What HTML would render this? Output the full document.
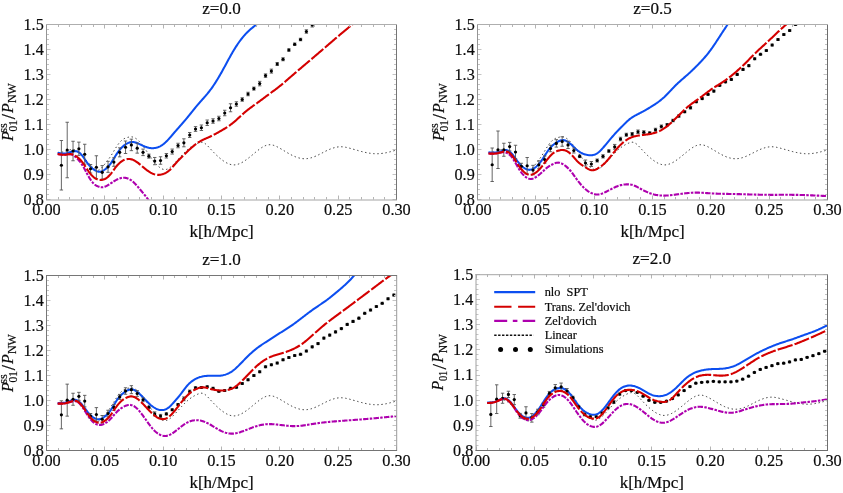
<!DOCTYPE html>
<html><head><meta charset="utf-8"><title>P01 ratio plots</title>
<style>html,body{margin:0;padding:0;background:#fff;}body{width:843px;height:493px;overflow:hidden;font-family:"Liberation Serif",serif;}svg{display:block;will-change:transform;}</style>
</head><body>
<svg width="843" height="493" viewBox="0 0 843 493">
<defs>
<clipPath id="c1"><rect x="46.5" y="24.5" width="350" height="175"/></clipPath>
<clipPath id="c2"><rect x="477.5" y="24.5" width="350" height="175"/></clipPath>
<clipPath id="c3"><rect x="46.5" y="275.5" width="350" height="175"/></clipPath>
<clipPath id="c4"><rect x="476" y="274.5" width="351.5" height="176"/></clipPath>
</defs>
<g id="panel1">
<g clip-path="url(#c1)" fill="none">
<path transform="translate(0 0.5)" d="M57.7 152.35L58.55 152.24L59.4 152.12L60.25 152L61.1 151.86L61.95 151.71L62.79 151.53L63.64 151.33L64.49 151.1L65.34 150.83L66.19 150.54L67.04 150.23L67.89 149.93L68.74 149.64L69.59 149.39L70.44 149.18L71.29 149.03L72.14 148.95L72.98 148.97L73.83 149.08L74.68 149.3L75.53 149.63L76.38 150.05L77.23 150.55L78.08 151.14L78.93 151.81L79.78 152.55L80.63 153.36L81.48 154.22L82.32 155.14L83.17 156.11L84.02 157.1L84.87 158.12L85.72 159.15L86.57 160.18L87.42 161.19L88.27 162.18L89.12 163.14L89.97 164.07L90.82 164.97L91.66 165.83L92.51 166.65L93.36 167.43L94.21 168.15L95.06 168.79L95.91 169.3L96.76 169.64L97.61 169.79L98.46 169.69L99.31 169.35L100.16 168.79L101.01 168.06L101.85 167.18L102.7 166.2L103.55 165.14L104.4 164.05L105.25 162.97L106.1 161.89L106.95 160.82L107.8 159.73L108.65 158.61L109.5 157.45L110.35 156.23L111.19 154.94L112.04 153.58L112.89 152.18L113.74 150.76L114.59 149.34L115.44 147.94L116.29 146.58L117.14 145.28L117.99 144.06L118.84 142.92L119.69 141.88L120.54 140.93L121.38 140.1L122.23 139.37L123.08 138.77L123.93 138.27L124.78 137.85L125.63 137.5L126.48 137.22L127.33 136.97L128.18 136.75L129.03 136.55L129.88 136.39L130.72 136.31L131.57 136.34L132.42 136.47L133.27 136.7L134.12 137.02L134.97 137.44L135.82 137.95L136.67 138.54L137.52 139.23L138.37 139.99L139.22 140.84L140.06 141.76L140.91 142.75L141.76 143.81L142.61 144.93L143.46 146.09L144.31 147.29L145.16 148.52L146.01 149.77L146.86 151.04L147.71 152.3L148.56 153.57L149.41 154.83L150.25 156.06L151.1 157.28L151.95 158.46L152.8 159.61L153.65 160.71L154.5 161.77L155.35 162.77L156.2 163.71L157.05 164.59L157.9 165.41L158.75 166.17L159.59 166.85L160.44 167.47L161.29 168L162.14 168.44L162.99 168.79L163.84 169.01L164.69 169.12L165.54 169.09L166.39 168.93L167.24 168.65L168.09 168.26L168.94 167.77L169.78 167.19L170.63 166.54L171.48 165.81L172.33 165.04L173.18 164.21L174.03 163.34L174.88 162.45L175.73 161.54L176.58 160.61L177.43 159.67L178.28 158.73L179.12 157.78L179.97 156.84L180.82 155.89L181.67 154.96L182.52 154.05L183.37 153.15L184.22 152.27L185.07 151.42L185.92 150.59L186.77 149.81L187.62 149.05L188.46 148.34L189.31 147.66L190.16 147.01L191.01 146.4L191.86 145.82L192.71 145.28L193.56 144.76L194.41 144.28L195.26 143.83L196.11 143.4L196.96 143.01L197.81 142.65L198.65 142.31L199.5 142.02L200.35 141.81L201.2 141.7L202.05 141.72L202.9 141.91L203.75 142.25L204.6 142.74L205.45 143.34L206.3 144.05L207.15 144.84L207.99 145.7L208.84 146.61L209.69 147.55L210.54 148.49L211.39 149.43L212.24 150.35L213.09 151.25L213.94 152.14L214.79 153L215.64 153.84L216.49 154.66L217.34 155.45L218.18 156.23L219.03 156.97L219.88 157.7L220.73 158.39L221.58 159.06L222.43 159.7L223.28 160.32L224.13 160.89L224.98 161.44L225.83 161.94L226.68 162.41L227.52 162.83L228.37 163.21L229.22 163.54L230.07 163.82L230.92 164.05L231.77 164.22L232.62 164.33L233.47 164.39L234.32 164.38L235.17 164.32L236.02 164.2L236.86 164.02L237.71 163.8L238.56 163.53L239.41 163.21L240.26 162.85L241.11 162.44L241.96 162L242.81 161.52L243.66 161.01L244.51 160.47L245.36 159.89L246.21 159.3L247.05 158.68L247.9 158.03L248.75 157.37L249.6 156.7L250.45 156.01L251.3 155.31L252.15 154.61L253 153.9L253.85 153.19L254.7 152.49L255.55 151.78L256.39 151.09L257.24 150.4L258.09 149.73L258.94 149.07L259.79 148.44L260.64 147.83L261.49 147.26L262.34 146.72L263.19 146.22L264.04 145.77L264.89 145.37L265.74 145.02L266.58 144.73L267.43 144.5L268.28 144.33L269.13 144.24L269.98 144.22L270.83 144.27L271.68 144.38L272.53 144.55L273.38 144.78L274.23 145.06L275.08 145.38L275.92 145.73L276.77 146.13L277.62 146.55L278.47 147L279.32 147.46L280.17 147.94L281.02 148.43L281.87 148.93L282.72 149.44L283.57 149.95L284.42 150.46L285.26 150.97L286.11 151.48L286.96 151.98L287.81 152.48L288.66 152.96L289.51 153.44L290.36 153.9L291.21 154.35L292.06 154.78L292.91 155.19L293.76 155.58L294.61 155.95L295.45 156.29L296.3 156.62L297.15 156.91L298 157.18L298.85 157.42L299.7 157.64L300.55 157.82L301.4 157.97L302.25 158.09L303.1 158.18L303.95 158.23L304.79 158.25L305.64 158.23L306.49 158.17L307.34 158.08L308.19 157.96L309.04 157.81L309.89 157.62L310.74 157.4L311.59 157.16L312.44 156.89L313.29 156.6L314.14 156.28L314.98 155.94L315.83 155.58L316.68 155.19L317.53 154.8L318.38 154.39L319.23 153.96L320.08 153.53L320.93 153.1L321.78 152.65L322.63 152.21L323.48 151.77L324.32 151.33L325.17 150.9L326.02 150.48L326.87 150.07L327.72 149.67L328.57 149.29L329.42 148.93L330.27 148.58L331.12 148.25L331.97 147.94L332.82 147.65L333.66 147.38L334.51 147.14L335.36 146.93L336.21 146.74L337.06 146.58L337.91 146.45L338.76 146.35L339.61 146.28L340.46 146.25L341.31 146.25L342.16 146.29L343.01 146.36L343.85 146.46L344.7 146.59L345.55 146.74L346.4 146.91L347.25 147.1L348.1 147.3L348.95 147.52L349.8 147.74L350.65 147.97L351.5 148.2L352.35 148.44L353.19 148.68L354.04 148.92L354.89 149.17L355.74 149.41L356.59 149.65L357.44 149.89L358.29 150.13L359.14 150.37L359.99 150.6L360.84 150.83L361.69 151.05L362.54 151.26L363.38 151.47L364.23 151.67L365.08 151.86L365.93 152.04L366.78 152.21L367.63 152.37L368.48 152.52L369.33 152.66L370.18 152.78L371.03 152.9L371.88 152.99L372.72 153.08L373.57 153.14L374.42 153.2L375.27 153.23L376.12 153.25L376.97 153.25L377.82 153.23L378.67 153.2L379.52 153.14L380.37 153.08L381.22 152.99L382.06 152.89L382.91 152.78L383.76 152.65L384.61 152.51L385.46 152.36L386.31 152.19L387.16 152.01L388.01 151.81L388.86 151.61L389.71 151.4L390.56 151.18L391.41 150.95L392.25 150.72L393.1 150.48L393.95 150.24L394.8 150L395.65 149.75L396.5 149.5" stroke="#2a2a2a" stroke-width="0.95" stroke-dasharray="1.4 2.7"/>
<path d="M57.7 152.75L58.23 152.86L58.75 152.97L59.28 153.07L59.81 153.17L60.34 153.26L60.86 153.34L61.39 153.42L61.92 153.47L62.45 153.52L62.97 153.55L63.5 153.56L64.03 153.55L64.56 153.52L65.08 153.47L65.61 153.39L66.14 153.3L66.67 153.19L67.19 153.06L67.72 152.91L68.25 152.76L68.78 152.59L69.3 152.42L69.83 152.25L70.36 152.07L70.89 151.9L71.41 151.74L71.94 151.58L72.47 151.44L73 151.32L73.52 151.22L74.05 151.15L74.58 151.11L75.11 151.11L75.63 151.15L76.16 151.24L76.69 151.36L77.22 151.54L77.74 151.75L78.27 152.02L78.8 152.34L79.33 152.7L79.85 153.12L80.38 153.58L80.91 154.1L81.44 154.68L81.96 155.31L82.49 155.98L83.02 156.7L83.55 157.45L84.07 158.22L84.6 159.01L85.13 159.81L85.66 160.6L86.18 161.39L86.71 162.16L87.24 162.9L87.77 163.61L88.29 164.28L88.82 164.91L89.35 165.51L89.88 166.08L90.4 166.61L90.93 167.12L91.46 167.6L91.99 168.05L92.51 168.49L93.04 168.9L93.57 169.3L94.1 169.68L94.62 170.04L95.15 170.37L95.68 170.68L96.21 170.95L96.73 171.19L97.26 171.39L97.79 171.55L98.32 171.67L98.84 171.74L99.37 171.76L99.9 171.73L100.43 171.65L100.95 171.53L101.48 171.36L102.01 171.16L102.54 170.92L103.06 170.64L103.59 170.33L104.12 170L104.65 169.63L105.17 169.25L105.7 168.84L106.23 168.4L106.76 167.94L107.28 167.45L107.81 166.92L108.34 166.37L108.87 165.78L109.39 165.16L109.92 164.5L110.45 163.8L110.98 163.06L111.5 162.29L112.03 161.48L112.56 160.65L113.09 159.8L113.61 158.94L114.14 158.07L114.67 157.2L115.2 156.33L115.72 155.48L116.25 154.64L116.78 153.82L117.31 153.03L117.83 152.27L118.36 151.53L118.89 150.83L119.42 150.15L119.94 149.49L120.47 148.87L121 148.28L121.53 147.71L122.05 147.18L122.58 146.68L123.11 146.21L123.64 145.76L124.16 145.35L124.69 144.96L125.22 144.59L125.75 144.26L126.27 143.94L126.8 143.65L127.33 143.38L127.86 143.14L128.38 142.91L128.91 142.7L129.44 142.52L129.97 142.36L130.49 142.23L131.02 142.12L131.55 142.05L132.08 142.01L132.6 142L133.13 142.03L133.66 142.09L134.19 142.18L134.71 142.29L135.24 142.43L135.77 142.6L136.3 142.78L136.82 142.98L137.35 143.2L137.88 143.42L138.41 143.66L138.93 143.9L139.46 144.15L139.99 144.4L140.52 144.65L141.04 144.89L141.57 145.14L142.1 145.38L142.63 145.62L143.15 145.85L143.68 146.08L144.21 146.3L144.74 146.51L145.26 146.71L145.79 146.9L146.32 147.08L146.85 147.25L147.37 147.41L147.9 147.55L148.43 147.68L148.95 147.8L149.48 147.9L150.01 147.98L150.54 148.05L151.06 148.11L151.59 148.15L152.12 148.17L152.65 148.18L153.17 148.16L153.7 148.14L154.23 148.09L154.76 148.02L155.28 147.94L155.81 147.84L156.34 147.72L156.87 147.58L157.39 147.42L157.92 147.24L158.45 147.04L158.98 146.82L159.5 146.58L160.03 146.32L160.56 146.04L161.09 145.74L161.61 145.41L162.14 145.06L162.67 144.69L163.2 144.3L163.72 143.89L164.25 143.45L164.78 142.99L165.31 142.52L165.83 142.02L166.36 141.51L166.89 140.99L167.42 140.45L167.94 139.89L168.47 139.33L169 138.75L169.53 138.16L170.05 137.57L170.58 136.97L171.11 136.36L171.64 135.75L172.16 135.13L172.69 134.51L173.22 133.89L173.75 133.27L174.27 132.65L174.8 132.04L175.33 131.42L175.86 130.81L176.38 130.21L176.91 129.6L177.44 129L177.97 128.4L178.49 127.8L179.02 127.2L179.55 126.61L180.08 126.01L180.6 125.41L181.13 124.81L181.66 124.21L182.19 123.61L182.71 123.01L183.24 122.4L183.77 121.79L184.3 121.18L184.82 120.56L185.35 119.94L185.88 119.32L186.41 118.69L186.93 118.05L187.46 117.41L187.99 116.77L188.52 116.12L189.04 115.47L189.57 114.81L190.1 114.16L190.63 113.5L191.15 112.84L191.68 112.18L192.21 111.52L192.74 110.86L193.26 110.21L193.79 109.55L194.32 108.9L194.85 108.24L195.37 107.6L195.9 106.95L196.43 106.32L196.96 105.68L197.48 105.05L198.01 104.43L198.54 103.82L199.07 103.21L199.59 102.6L200.12 102.01L200.65 101.41L201.18 100.82L201.7 100.23L202.23 99.63L202.76 99.04L203.29 98.45L203.81 97.86L204.34 97.26L204.87 96.66L205.4 96.05L205.92 95.44L206.45 94.82L206.98 94.19L207.51 93.56L208.03 92.91L208.56 92.26L209.09 91.59L209.62 90.91L210.14 90.22L210.67 89.51L211.2 88.79L211.73 88.06L212.25 87.31L212.78 86.55L213.31 85.78L213.84 85L214.36 84.2L214.89 83.39L215.42 82.57L215.95 81.74L216.47 80.9L217 80.05L217.53 79.19L218.06 78.32L218.58 77.43L219.11 76.54L219.64 75.64L220.17 74.72L220.69 73.8L221.22 72.87L221.75 71.93L222.28 70.98L222.8 70.03L223.33 69.07L223.86 68.1L224.39 67.13L224.91 66.16L225.44 65.18L225.97 64.21L226.5 63.23L227.02 62.25L227.55 61.28L228.08 60.3L228.61 59.33L229.13 58.37L229.66 57.41L230.19 56.46L230.72 55.51L231.24 54.58L231.77 53.65L232.3 52.73L232.83 51.83L233.35 50.94L233.88 50.06L234.41 49.19L234.94 48.34L235.46 47.5L235.99 46.67L236.52 45.86L237.05 45.06L237.57 44.27L238.1 43.5L238.63 42.74L239.15 42L239.68 41.27L240.21 40.55L240.74 39.85L241.26 39.16L241.79 38.49L242.32 37.82L242.85 37.18L243.37 36.55L243.9 35.93L244.43 35.33L244.96 34.74L245.48 34.16L246.01 33.6L246.54 33.06L247.07 32.52L247.59 32L248.12 31.49L248.65 30.99L249.18 30.5L249.7 30.03L250.23 29.56L250.76 29.1L251.29 28.64L251.81 28.2L252.34 27.76L252.87 27.33L253.4 26.91L253.92 26.49L254.45 26.07L254.98 25.66L255.51 25.26L256.03 24.85L256.56 24.45L257.09 24.05L257.62 23.66L258.14 23.26L258.67 22.87L259.2 22.48L259.73 22.09L260.25 21.7L260.78 21.32L261.31 20.93L261.84 20.55L262.36 20.16L262.89 19.78L263.42 19.4L263.95 19.02L264.47 18.64L265 18.26L265.53 17.88L266.06 17.51L266.58 17.13L267.11 16.75L267.64 16.38L268.17 16" stroke="#0c4ef0" stroke-width="2.05"/>
<path d="M61.38 140.5V190M59.67 140.5H63.08M59.67 190H63.08M67.21 122.25V177.75M65.51 122.25H68.91M65.51 177.75H68.91M73.04 141.25V160.75M71.34 141.25H74.74M71.34 160.75H74.74M78.88 142.13V155.38M77.17 142.13H80.58M77.17 155.38H80.58M84.71 144.25V164.25M83.01 144.25H86.41M83.01 164.25H86.41M90.54 164.5V173M88.84 164.5H92.24M88.84 173H92.24M96.38 155.75V178.75M94.67 155.75H98.08M94.67 178.75H98.08M102.21 165.6V179.1M100.51 165.6H103.91M100.51 179.1H103.91M108.04 161.33V172.33M106.34 161.33H109.74M106.34 172.33H109.74M113.88 157.8V166.3M112.17 157.8H115.58M112.17 166.3H115.58M119.71 147.85V156.85M118.01 147.85H121.41M118.01 156.85H121.41M125.54 141V153.5M123.84 141H127.24M123.84 153.5H127.24M131.38 139.15V150.65M129.68 139.15H133.07M129.68 150.65H133.07M137.21 143.15V153.15M135.51 143.15H138.91M135.51 153.15H138.91M143.04 149.1V155.6M141.34 149.1H144.74M141.34 155.6H144.74M148.88 154.15V158.15M147.18 154.15H150.57M147.18 158.15H150.57M154.71 157.48V164.72M153.01 157.48H156.41M153.01 164.72H156.41M160.54 156.75V164.25M158.84 156.75H162.24M158.84 164.25H162.24M166.38 153.5V158M164.68 153.5H168.07M164.68 158H168.07M172.21 149.07V154.07M170.51 149.07H173.91M170.51 154.07H173.91M178.04 143.25V147.75M176.34 143.25H179.74M176.34 147.75H179.74M183.88 138.8V146.8M182.18 138.8H185.57M182.18 146.8H185.57M189.71 132.5V137.5M188.01 132.5H191.41M188.01 137.5H191.41M195.54 126.62V131.38M193.84 126.62H197.24M193.84 131.38H197.24M201.38 125V130.5M199.68 125H203.08M199.68 130.5H203.08M207.21 120V125.5M205.51 120H208.91M205.51 125.5H208.91M213.04 118.75V123.25M211.34 118.75H214.74M211.34 123.25H214.74M218.88 116.25V120.75M217.18 116.25H220.58M217.18 120.75H220.58M224.71 110.25V115.75M223.01 110.25H226.41M223.01 115.75H226.41M230.54 103.75V111.75M228.84 103.75H232.24M228.84 111.75H232.24M236.38 101.75V106.25M234.68 101.75H238.08M234.68 106.25H238.08M242.21 97.75V101.25M240.51 97.75H243.91M240.51 101.25H243.91M248.04 92.25V95.75M246.34 92.25H249.74M246.34 95.75H249.74M253.88 87.1V90.1M252.18 87.1H255.58M252.18 90.1H255.58M259.71 81.35V85.85M258.01 81.35H261.41M258.01 85.85H261.41M265.54 73.88V77.37M263.84 73.88H267.24M263.84 77.37H267.24M271.38 69.12V73.12M269.68 69.12H273.07M269.68 73.12H273.07M277.21 62.5V65.5M275.51 62.5H278.91M275.51 65.5H278.91M283.04 57.75V60.75M281.34 57.75H284.74M281.34 60.75H284.74M288.88 48.75V51.25M287.18 48.75H290.57M287.18 51.25H290.57M294.71 43V45.5M293.01 43H296.41M293.01 45.5H296.41M300.54 38.25V40.75M298.84 38.25H302.24M298.84 40.75H302.24M306.38 29.75V33.25M304.68 29.75H308.07M304.68 33.25H308.07M312.21 23V27M310.51 23H313.91M310.51 27H313.91" stroke="#555" stroke-width="0.9"/>
<g fill="#000"><circle cx="61.38" cy="165.25" r="1.6"/><circle cx="67.21" cy="150" r="1.6"/><circle cx="73.04" cy="151" r="1.6"/><circle cx="78.88" cy="148.75" r="1.6"/><circle cx="84.71" cy="154.25" r="1.6"/><circle cx="90.54" cy="168.75" r="1.6"/><circle cx="96.38" cy="167.25" r="1.6"/><circle cx="102.21" cy="172.35" r="1.6"/><circle cx="108.04" cy="166.83" r="1.6"/><circle cx="113.88" cy="162.05" r="1.6"/><circle cx="119.71" cy="152.35" r="1.6"/><circle cx="125.54" cy="147.25" r="1.6"/><circle cx="131.38" cy="144.9" r="1.6"/><circle cx="137.21" cy="148.15" r="1.6"/><circle cx="143.04" cy="152.35" r="1.6"/><circle cx="148.88" cy="156.15" r="1.6"/><circle cx="154.71" cy="161.1" r="1.6"/><circle cx="160.54" cy="160.5" r="1.6"/><circle cx="166.38" cy="155.75" r="1.6"/><circle cx="172.21" cy="151.57" r="1.6"/><circle cx="178.04" cy="145.5" r="1.6"/><circle cx="183.88" cy="142.8" r="1.6"/><circle cx="189.71" cy="135" r="1.6"/><circle cx="195.54" cy="129" r="1.6"/><circle cx="201.38" cy="127.75" r="1.6"/><circle cx="207.21" cy="122.75" r="1.6"/><circle cx="213.04" cy="121" r="1.6"/><circle cx="218.88" cy="118.5" r="1.6"/><circle cx="224.71" cy="113" r="1.6"/><circle cx="230.54" cy="107.75" r="1.6"/><circle cx="236.38" cy="104" r="1.6"/><circle cx="242.21" cy="99.5" r="1.6"/><circle cx="248.04" cy="94" r="1.6"/><circle cx="253.88" cy="88.6" r="1.6"/><circle cx="259.71" cy="83.6" r="1.6"/><circle cx="265.54" cy="75.62" r="1.6"/><circle cx="271.38" cy="71.12" r="1.6"/><circle cx="277.21" cy="64" r="1.6"/><circle cx="283.04" cy="59.25" r="1.6"/><circle cx="288.88" cy="50" r="1.6"/><circle cx="294.71" cy="44.25" r="1.6"/><circle cx="300.54" cy="39.5" r="1.6"/><circle cx="306.38" cy="31.5" r="1.6"/><circle cx="312.21" cy="25" r="1.6"/></g>
<path d="M57.7 154L57.94 154.05L58.18 154.1L58.42 154.15L58.66 154.2L58.9 154.24L59.15 154.29L59.39 154.34L59.63 154.38L59.87 154.42L60.11 154.47L60.35 154.51L60.59 154.54L60.83 154.58L61.07 154.62L61.31 154.65L61.55 154.68L61.8 154.7L62.04 154.73L62.28 154.75L62.52 154.77L62.76 154.78L63 154.79L63.24 154.8L63.48 154.8L63.72 154.8L63.96 154.8L64.21 154.79L64.45 154.78L64.69 154.76L64.93 154.74L65.17 154.71L65.41 154.68L65.65 154.65L65.89 154.61L66.13 154.57L66.37 154.53L66.61 154.49L66.86 154.45L67.1 154.4L67.34 154.36L67.58 154.32L67.82 154.28L68.06 154.25L68.3 154.22L68.54 154.19L68.78 154.17L69.02 154.15L69.26 154.13L69.51 154.13L69.75 154.13L69.99 154.13L70.23 154.15L70.47 154.17L70.71 154.21L70.95 154.25L71.19 154.3L71.43 154.37L71.67 154.44L71.92 154.53L72.16 154.63L72.4 154.73L72.64 154.85L72.88 154.98L73.12 155.12L73.36 155.27L73.6 155.43L73.84 155.59L74.08 155.77L74.32 155.95L74.57 156.14L74.81 156.33L75.05 156.54L75.29 156.75L75.53 156.96L75.77 157.18L76.01 157.41L76.25 157.64L76.49 157.88L76.73 158.12L76.97 158.37L77.22 158.62L77.46 158.87L77.7 159.12L77.94 159.38L78.18 159.64L78.42 159.91L78.66 160.17L78.9 160.44L79.14 160.71L79.38 160.99L79.63 161.28L79.87 161.57L80.11 161.86L80.35 162.17L80.59 162.48L80.83 162.8L81.07 163.13L81.31 163.48L81.55 163.83L81.79 164.19L82.03 164.57L82.28 164.95L82.52 165.34L82.76 165.75L83 166.16L83.24 166.58L83.48 167L83.72 167.43L83.96 167.87L84.2 168.31L84.44 168.76L84.68 169.21L84.93 169.66L85.17 170.11L85.41 170.57L85.65 171.03L85.89 171.49L86.13 171.94L86.37 172.4L86.61 172.86L86.85 173.31L87.09 173.76L87.34 174.21L87.58 174.65L87.82 175.09L88.06 175.53L88.3 175.96L88.54 176.38L88.78 176.8L89.02 177.21L89.26 177.61L89.5 178.01L89.74 178.4L89.99 178.78L90.23 179.16L90.47 179.53L90.71 179.89L90.95 180.24L91.19 180.59L91.43 180.92L91.67 181.25L91.91 181.56L92.15 181.87L92.39 182.17L92.64 182.45L92.88 182.73L93.12 183L93.36 183.25L93.6 183.5L93.84 183.73L94.08 183.95L94.32 184.17L94.56 184.37L94.8 184.57L95.05 184.75L95.29 184.93L95.53 185.1L95.77 185.26L96.01 185.41L96.25 185.55L96.49 185.69L96.73 185.82L96.97 185.94L97.21 186.06L97.45 186.17L97.7 186.28L97.94 186.37L98.18 186.47L98.42 186.56L98.66 186.64L98.9 186.72L99.14 186.79L99.38 186.86L99.62 186.93L99.86 186.99L100.1 187.04L100.35 187.09L100.59 187.14L100.83 187.17L101.07 187.2L101.31 187.23L101.55 187.24L101.79 187.25L102.03 187.25L102.27 187.24L102.51 187.22L102.75 187.2L103 187.17L103.24 187.13L103.48 187.08L103.72 187.03L103.96 186.96L104.2 186.9L104.44 186.82L104.68 186.74L104.92 186.66L105.16 186.56L105.41 186.47L105.65 186.36L105.89 186.26L106.13 186.14L106.37 186.03L106.61 185.9L106.85 185.78L107.09 185.65L107.33 185.52L107.57 185.38L107.81 185.24L108.06 185.1L108.3 184.95L108.54 184.8L108.78 184.65L109.02 184.5L109.26 184.35L109.5 184.19L109.74 184.04L109.98 183.88L110.22 183.72L110.46 183.56L110.71 183.4L110.95 183.24L111.19 183.08L111.43 182.92L111.67 182.76L111.91 182.6L112.15 182.44L112.39 182.28L112.63 182.12L112.87 181.96L113.12 181.81L113.36 181.65L113.6 181.5L113.84 181.35L114.08 181.2L114.32 181.05L114.56 180.9L114.8 180.76L115.04 180.61L115.28 180.47L115.52 180.33L115.77 180.2L116.01 180.06L116.25 179.93L116.49 179.81L116.73 179.68L116.97 179.56L117.21 179.44L117.45 179.33L117.69 179.22L117.93 179.11L118.17 179L118.42 178.9L118.66 178.81L118.9 178.71L119.14 178.62L119.38 178.54L119.62 178.46L119.86 178.38L120.1 178.31L120.34 178.24L120.58 178.17L120.83 178.11L121.07 178.06L121.31 178L121.55 177.96L121.79 177.91L122.03 177.88L122.27 177.84L122.51 177.81L122.75 177.79L122.99 177.77L123.23 177.76L123.48 177.75L123.72 177.75L123.96 177.75L124.2 177.76L124.44 177.77L124.68 177.79L124.92 177.81L125.16 177.84L125.4 177.88L125.64 177.91L125.88 177.96L126.13 178.01L126.37 178.07L126.61 178.13L126.85 178.19L127.09 178.26L127.33 178.34L127.57 178.42L127.81 178.51L128.05 178.6L128.29 178.7L128.54 178.81L128.78 178.92L129.02 179.03L129.26 179.15L129.5 179.27L129.74 179.4L129.98 179.54L130.22 179.68L130.46 179.83L130.7 179.98L130.94 180.14L131.19 180.3L131.43 180.47L131.67 180.64L131.91 180.82L132.15 181.01L132.39 181.2L132.63 181.4L132.87 181.6L133.11 181.81L133.35 182.02L133.59 182.24L133.84 182.46L134.08 182.69L134.32 182.92L134.56 183.16L134.8 183.41L135.04 183.65L135.28 183.91L135.52 184.16L135.76 184.42L136 184.68L136.25 184.95L136.49 185.22L136.73 185.49L136.97 185.77L137.21 186.04L137.45 186.32L137.69 186.6L137.93 186.89L138.17 187.17L138.41 187.46L138.65 187.74L138.9 188.03L139.14 188.32L139.38 188.6L139.62 188.89L139.86 189.18L140.1 189.47L140.34 189.76L140.58 190.04L140.82 190.33L141.06 190.62L141.3 190.91L141.55 191.2L141.79 191.48L142.03 191.77L142.27 192.06L142.51 192.35L142.75 192.64L142.99 192.93L143.23 193.23L143.47 193.52L143.71 193.81L143.95 194.11L144.2 194.41L144.44 194.7L144.68 195L144.92 195.3L145.16 195.61L145.4 195.91L145.64 196.22L145.88 196.52L146.12 196.83L146.36 197.14L146.61 197.46L146.85 197.77L147.09 198.09L147.33 198.41L147.57 198.73L147.81 199.06L148.05 199.39L148.29 199.72L148.53 200.05L148.77 200.38L149.01 200.72L149.26 201.06L149.5 201.4L149.74 201.74L149.98 202.09L150.22 202.43L150.46 202.78L150.7 203.13L150.94 203.48L151.18 203.83L151.42 204.18L151.66 204.54L151.91 204.89L152.15 205.25L152.39 205.6L152.63 205.96L152.87 206.32L153.11 206.68L153.35 207.03L153.59 207.39L153.83 207.75" stroke="#ae00ae" stroke-width="2.1" stroke-dasharray="5.4 1.3 2.5 1.3"/>
<path d="M57.7 154L58.46 154.14L59.22 154.29L59.98 154.42L60.75 154.53L61.51 154.63L62.27 154.71L63.03 154.76L63.79 154.78L64.55 154.77L65.31 154.71L66.08 154.62L66.84 154.51L67.6 154.4L68.36 154.29L69.12 154.21L69.88 154.17L70.64 154.17L71.41 154.24L72.17 154.39L72.93 154.61L73.69 154.9L74.45 155.26L75.21 155.67L75.97 156.15L76.74 156.68L77.5 157.25L78.26 157.87L79.02 158.53L79.78 159.24L80.54 160.01L81.3 160.87L82.06 161.8L82.83 162.82L83.59 163.89L84.35 165.02L85.11 166.17L85.87 167.34L86.63 168.5L87.39 169.65L88.16 170.76L88.92 171.83L89.68 172.85L90.44 173.82L91.2 174.72L91.96 175.57L92.72 176.34L93.49 177.03L94.25 177.65L95.01 178.19L95.77 178.66L96.53 179.05L97.29 179.38L98.05 179.63L98.82 179.82L99.58 179.94L100.34 179.99L101.1 179.99L101.86 179.92L102.62 179.78L103.38 179.58L104.15 179.31L104.91 178.96L105.67 178.54L106.43 178.05L107.19 177.48L107.95 176.84L108.71 176.13L109.48 175.36L110.24 174.51L111 173.59L111.76 172.62L112.52 171.6L113.28 170.56L114.04 169.51L114.81 168.46L115.57 167.44L116.33 166.46L117.09 165.54L117.85 164.68L118.61 163.89L119.37 163.15L120.14 162.48L120.9 161.87L121.66 161.32L122.42 160.83L123.18 160.4L123.94 160.03L124.7 159.72L125.46 159.47L126.23 159.27L126.99 159.12L127.75 159.03L128.51 158.99L129.27 159L130.03 159.06L130.79 159.18L131.56 159.35L132.32 159.57L133.08 159.86L133.84 160.2L134.6 160.59L135.36 161.04L136.12 161.53L136.89 162.06L137.65 162.62L138.41 163.2L139.17 163.81L139.93 164.43L140.69 165.06L141.45 165.7L142.22 166.33L142.98 166.97L143.74 167.6L144.5 168.23L145.26 168.85L146.02 169.45L146.78 170.04L147.55 170.61L148.31 171.15L149.07 171.67L149.83 172.16L150.59 172.62L151.35 173.04L152.11 173.42L152.88 173.76L153.64 174.06L154.4 174.3L155.16 174.5L155.92 174.66L156.68 174.76L157.44 174.83L158.21 174.85L158.97 174.83L159.73 174.77L160.49 174.66L161.25 174.52L162.01 174.34L162.77 174.13L163.54 173.87L164.3 173.58L165.06 173.25L165.82 172.87L166.58 172.44L167.34 171.96L168.1 171.42L168.86 170.81L169.63 170.14L170.39 169.41L171.15 168.61L171.91 167.77L172.67 166.89L173.43 166L174.19 165.1L174.96 164.21L175.72 163.33L176.48 162.48L177.24 161.64L178 160.82L178.76 160.01L179.52 159.21L180.29 158.43L181.05 157.66L181.81 156.89L182.57 156.14L183.33 155.39L184.09 154.66L184.85 153.92L185.62 153.19L186.38 152.47L187.14 151.74L187.9 151.02L188.66 150.31L189.42 149.6L190.18 148.9L190.95 148.21L191.71 147.53L192.47 146.87L193.23 146.22L193.99 145.59L194.75 144.97L195.51 144.38L196.28 143.81L197.04 143.26L197.8 142.74L198.56 142.25L199.32 141.78L200.08 141.34L200.84 140.92L201.61 140.52L202.37 140.13L203.13 139.76L203.89 139.41L204.65 139.06L205.41 138.72L206.17 138.38L206.94 138.05L207.7 137.71L208.46 137.37L209.22 137.03L209.98 136.68L210.74 136.32L211.5 135.95L212.26 135.57L213.03 135.19L213.79 134.79L214.55 134.39L215.31 133.99L216.07 133.57L216.83 133.15L217.59 132.73L218.36 132.3L219.12 131.87L219.88 131.44L220.64 131L221.4 130.56L222.16 130.11L222.92 129.67L223.69 129.22L224.45 128.76L225.21 128.3L225.97 127.83L226.73 127.35L227.49 126.86L228.25 126.36L229.02 125.85L229.78 125.32L230.54 124.77L231.3 124.21L232.06 123.63L232.82 123.03L233.58 122.41L234.35 121.77L235.11 121.11L235.87 120.43L236.63 119.75L237.39 119.05L238.15 118.34L238.91 117.64L239.68 116.93L240.44 116.21L241.2 115.51L241.96 114.81L242.72 114.11L243.48 113.43L244.24 112.76L245.01 112.1L245.77 111.47L246.53 110.85L247.29 110.24L248.05 109.64L248.81 109.06L249.57 108.49L250.34 107.93L251.1 107.37L251.86 106.82L252.62 106.27L253.38 105.73L254.14 105.19L254.9 104.65L255.66 104.1L256.43 103.55L257.19 103L257.95 102.45L258.71 101.89L259.47 101.32L260.23 100.76L260.99 100.19L261.76 99.62L262.52 99.05L263.28 98.48L264.04 97.9L264.8 97.33L265.56 96.76L266.32 96.19L267.09 95.63L267.85 95.06L268.61 94.5L269.37 93.94L270.13 93.38L270.89 92.83L271.65 92.27L272.42 91.72L273.18 91.16L273.94 90.6L274.7 90.04L275.46 89.47L276.22 88.9L276.98 88.32L277.75 87.74L278.51 87.15L279.27 86.55L280.03 85.94L280.79 85.33L281.55 84.7L282.31 84.07L283.08 83.43L283.84 82.79L284.6 82.14L285.36 81.48L286.12 80.82L286.88 80.16L287.64 79.5L288.41 78.83L289.17 78.16L289.93 77.5L290.69 76.83L291.45 76.17L292.21 75.51L292.97 74.85L293.74 74.19L294.5 73.53L295.26 72.88L296.02 72.23L296.78 71.57L297.54 70.92L298.3 70.28L299.06 69.63L299.83 68.98L300.59 68.34L301.35 67.69L302.11 67.04L302.87 66.4L303.63 65.75L304.39 65.11L305.16 64.47L305.92 63.82L306.68 63.18L307.44 62.53L308.2 61.88L308.96 61.24L309.72 60.59L310.49 59.95L311.25 59.3L312.01 58.65L312.77 58.01L313.53 57.36L314.29 56.71L315.05 56.06L315.82 55.41L316.58 54.76L317.34 54.11L318.1 53.46L318.86 52.81L319.62 52.16L320.38 51.51L321.15 50.85L321.91 50.2L322.67 49.55L323.43 48.89L324.19 48.24L324.95 47.58L325.71 46.93L326.48 46.27L327.24 45.62L328 44.96L328.76 44.3L329.52 43.65L330.28 42.99L331.04 42.34L331.81 41.68L332.57 41.03L333.33 40.37L334.09 39.72L334.85 39.07L335.61 38.42L336.37 37.77L337.14 37.12L337.9 36.48L338.66 35.83L339.42 35.19L340.18 34.55L340.94 33.91L341.7 33.27L342.46 32.64L343.23 32L343.99 31.36L344.75 30.73L345.51 30.09L346.27 29.45L347.03 28.82L347.79 28.18L348.56 27.54L349.32 26.9L350.08 26.26L350.84 25.62L351.6 24.98L352.36 24.33L353.12 23.69L353.89 23.04L354.65 22.39L355.41 21.74L356.17 21.09L356.93 20.43L357.69 19.78L358.45 19.12L359.22 18.47L359.98 17.81L360.74 17.16L361.5 16.5" stroke="#d40000" stroke-width="2.1" stroke-dasharray="15.6 2.1"/>
</g>
<path d="M46.5 199.5v-4M46.5 24.5v4M58.5 199.5v-2.5M58.5 24.5v2.5M69.5 199.5v-2.5M69.5 24.5v2.5M81.5 199.5v-2.5M81.5 24.5v2.5M93.5 199.5v-2.5M93.5 24.5v2.5M104.5 199.5v-4M104.5 24.5v4M116.5 199.5v-2.5M116.5 24.5v2.5M128.5 199.5v-2.5M128.5 24.5v2.5M139.5 199.5v-2.5M139.5 24.5v2.5M151.5 199.5v-2.5M151.5 24.5v2.5M163.5 199.5v-4M163.5 24.5v4M174.5 199.5v-2.5M174.5 24.5v2.5M186.5 199.5v-2.5M186.5 24.5v2.5M198.5 199.5v-2.5M198.5 24.5v2.5M209.5 199.5v-2.5M209.5 24.5v2.5M221.5 199.5v-4M221.5 24.5v4M233.5 199.5v-2.5M233.5 24.5v2.5M244.5 199.5v-2.5M244.5 24.5v2.5M256.5 199.5v-2.5M256.5 24.5v2.5M268.5 199.5v-2.5M268.5 24.5v2.5M279.5 199.5v-4M279.5 24.5v4M291.5 199.5v-2.5M291.5 24.5v2.5M303.5 199.5v-2.5M303.5 24.5v2.5M314.5 199.5v-2.5M314.5 24.5v2.5M326.5 199.5v-2.5M326.5 24.5v2.5M338.5 199.5v-4M338.5 24.5v4M349.5 199.5v-2.5M349.5 24.5v2.5M361.5 199.5v-2.5M361.5 24.5v2.5M373.5 199.5v-2.5M373.5 24.5v2.5M384.5 199.5v-2.5M384.5 24.5v2.5M396.5 199.5v-4M396.5 24.5v4" stroke="#b4b4b4" stroke-width="1" fill="none"/>
<path d="M46.5 199.5h4M396.5 199.5h-4M46.5 194.5h2.5M396.5 194.5h-2.5M46.5 189.5h2.5M396.5 189.5h-2.5M46.5 184.5h2.5M396.5 184.5h-2.5M46.5 179.5h2.5M396.5 179.5h-2.5M46.5 174.5h4M396.5 174.5h-4M46.5 169.5h2.5M396.5 169.5h-2.5M46.5 164.5h2.5M396.5 164.5h-2.5M46.5 159.5h2.5M396.5 159.5h-2.5M46.5 154.5h2.5M396.5 154.5h-2.5M46.5 149.5h4M396.5 149.5h-4M46.5 144.5h2.5M396.5 144.5h-2.5M46.5 139.5h2.5M396.5 139.5h-2.5M46.5 134.5h2.5M396.5 134.5h-2.5M46.5 129.5h2.5M396.5 129.5h-2.5M46.5 124.5h4M396.5 124.5h-4M46.5 119.5h2.5M396.5 119.5h-2.5M46.5 114.5h2.5M396.5 114.5h-2.5M46.5 109.5h2.5M396.5 109.5h-2.5M46.5 104.5h2.5M396.5 104.5h-2.5M46.5 99.5h4M396.5 99.5h-4M46.5 94.5h2.5M396.5 94.5h-2.5M46.5 89.5h2.5M396.5 89.5h-2.5M46.5 84.5h2.5M396.5 84.5h-2.5M46.5 79.5h2.5M396.5 79.5h-2.5M46.5 74.5h4M396.5 74.5h-4M46.5 69.5h2.5M396.5 69.5h-2.5M46.5 64.5h2.5M396.5 64.5h-2.5M46.5 59.5h2.5M396.5 59.5h-2.5M46.5 54.5h2.5M396.5 54.5h-2.5M46.5 49.5h4M396.5 49.5h-4M46.5 44.5h2.5M396.5 44.5h-2.5M46.5 39.5h2.5M396.5 39.5h-2.5M46.5 34.5h2.5M396.5 34.5h-2.5M46.5 29.5h2.5M396.5 29.5h-2.5M46.5 24.5h4M396.5 24.5h-4" stroke="#c4c4c4" stroke-width="1" fill="none"/>
<path d="M46.5 24V200" stroke="#949494" stroke-width="1" fill="none"/>
<path d="M396.5 24V200" stroke="#747474" stroke-width="1" fill="none"/>
<path d="M46 24.5H397" stroke="#aeaeae" stroke-width="1" fill="none"/>
<path d="M46 200H397" stroke="#a4a4a4" stroke-width="1" fill="none"/>
<g font-family="'Liberation Serif', serif" font-size="16.4" fill="#0a0a0a" stroke="#0a0a0a" stroke-width="0.2">
<text transform="translate(46.5 215) scale(0.955 1)" text-anchor="middle" font-size="17.1">0.00</text>
<text transform="translate(104.83 215) scale(0.955 1)" text-anchor="middle" font-size="17.1">0.05</text>
<text transform="translate(163.17 215) scale(0.955 1)" text-anchor="middle" font-size="17.1">0.10</text>
<text transform="translate(221.5 215) scale(0.955 1)" text-anchor="middle" font-size="17.1">0.15</text>
<text transform="translate(279.83 215) scale(0.955 1)" text-anchor="middle" font-size="17.1">0.20</text>
<text transform="translate(338.17 215) scale(0.955 1)" text-anchor="middle" font-size="17.1">0.25</text>
<text transform="translate(396.5 215) scale(0.955 1)" text-anchor="middle" font-size="17.1">0.30</text>
<text transform="translate(43.7 204.9) scale(0.945 1)" text-anchor="end" font-size="17.1">0.8</text>
<text transform="translate(43.7 179.9) scale(0.945 1)" text-anchor="end" font-size="17.1">0.9</text>
<text transform="translate(43.7 154.9) scale(0.945 1)" text-anchor="end" font-size="17.1">1.0</text>
<text transform="translate(43.7 129.9) scale(0.945 1)" text-anchor="end" font-size="17.1">1.1</text>
<text transform="translate(43.7 104.9) scale(0.945 1)" text-anchor="end" font-size="17.1">1.2</text>
<text transform="translate(43.7 79.9) scale(0.945 1)" text-anchor="end" font-size="17.1">1.3</text>
<text transform="translate(43.7 54.9) scale(0.945 1)" text-anchor="end" font-size="17.1">1.4</text>
<text transform="translate(43.7 29.9) scale(0.945 1)" text-anchor="end" font-size="17.1">1.5</text>
<text x="221.5" y="13.9" text-anchor="middle" font-size="17.1">z=0.0</text>
<text x="221.5" y="236.7" text-anchor="middle" font-size="17">k[h/Mpc]</text>
</g>
<g transform="translate(13 141) rotate(-90)" font-family="'Liberation Serif', serif" fill="#0a0a0a" stroke="#0a0a0a" stroke-width="0.2">
<text x="0" y="0" font-size="16" font-style="italic">P</text>
<text x="8.2" y="-6.4" font-size="12.3">ss</text>
<text transform="translate(9.4 4) scale(0.885 1)" font-size="13">01</text>
<text x="21.8" y="1.8" font-size="19">/</text>
<text x="28" y="0" font-size="16" font-style="italic">P</text>
<text x="37.9" y="2.7" font-size="12">NW</text>
</g>
</g>
<g id="panel2">
<g clip-path="url(#c2)" fill="none">
<path transform="translate(0 0.5)" d="M488.5 152.35L489.35 152.24L490.2 152.12L491.05 152L491.9 151.86L492.75 151.71L493.59 151.53L494.44 151.33L495.29 151.1L496.14 150.83L496.99 150.54L497.84 150.23L498.69 149.93L499.54 149.64L500.39 149.39L501.24 149.18L502.09 149.03L502.94 148.95L503.78 148.97L504.63 149.08L505.48 149.3L506.33 149.63L507.18 150.05L508.03 150.55L508.88 151.14L509.73 151.81L510.58 152.55L511.43 153.36L512.28 154.22L513.12 155.14L513.97 156.11L514.82 157.1L515.67 158.12L516.52 159.15L517.37 160.18L518.22 161.19L519.07 162.18L519.92 163.14L520.77 164.07L521.62 164.97L522.46 165.83L523.31 166.65L524.16 167.43L525.01 168.15L525.86 168.79L526.71 169.3L527.56 169.64L528.41 169.79L529.26 169.69L530.11 169.35L530.96 168.79L531.81 168.06L532.65 167.18L533.5 166.2L534.35 165.14L535.2 164.05L536.05 162.97L536.9 161.89L537.75 160.82L538.6 159.73L539.45 158.61L540.3 157.45L541.15 156.23L541.99 154.94L542.84 153.58L543.69 152.18L544.54 150.76L545.39 149.34L546.24 147.94L547.09 146.58L547.94 145.28L548.79 144.06L549.64 142.92L550.49 141.88L551.34 140.93L552.18 140.1L553.03 139.37L553.88 138.77L554.73 138.27L555.58 137.85L556.43 137.5L557.28 137.22L558.13 136.97L558.98 136.75L559.83 136.55L560.68 136.39L561.52 136.31L562.37 136.34L563.22 136.47L564.07 136.7L564.92 137.02L565.77 137.44L566.62 137.95L567.47 138.54L568.32 139.23L569.17 139.99L570.02 140.84L570.86 141.76L571.71 142.75L572.56 143.81L573.41 144.93L574.26 146.09L575.11 147.29L575.96 148.52L576.81 149.77L577.66 151.04L578.51 152.3L579.36 153.57L580.21 154.83L581.05 156.06L581.9 157.28L582.75 158.46L583.6 159.61L584.45 160.71L585.3 161.77L586.15 162.77L587 163.71L587.85 164.59L588.7 165.41L589.55 166.17L590.39 166.85L591.24 167.47L592.09 168L592.94 168.44L593.79 168.79L594.64 169.01L595.49 169.12L596.34 169.09L597.19 168.93L598.04 168.65L598.89 168.26L599.74 167.77L600.58 167.19L601.43 166.54L602.28 165.81L603.13 165.04L603.98 164.21L604.83 163.34L605.68 162.45L606.53 161.54L607.38 160.61L608.23 159.67L609.08 158.73L609.92 157.78L610.77 156.84L611.62 155.89L612.47 154.96L613.32 154.05L614.17 153.15L615.02 152.27L615.87 151.42L616.72 150.59L617.57 149.81L618.42 149.05L619.26 148.34L620.11 147.66L620.96 147.01L621.81 146.4L622.66 145.82L623.51 145.28L624.36 144.76L625.21 144.28L626.06 143.83L626.91 143.4L627.76 143.01L628.61 142.65L629.45 142.31L630.3 142.02L631.15 141.81L632 141.7L632.85 141.72L633.7 141.91L634.55 142.25L635.4 142.74L636.25 143.34L637.1 144.05L637.95 144.84L638.79 145.7L639.64 146.61L640.49 147.55L641.34 148.49L642.19 149.43L643.04 150.35L643.89 151.25L644.74 152.14L645.59 153L646.44 153.84L647.29 154.66L648.14 155.45L648.98 156.23L649.83 156.97L650.68 157.7L651.53 158.39L652.38 159.06L653.23 159.7L654.08 160.32L654.93 160.89L655.78 161.44L656.63 161.94L657.48 162.41L658.32 162.83L659.17 163.21L660.02 163.54L660.87 163.82L661.72 164.05L662.57 164.22L663.42 164.33L664.27 164.39L665.12 164.38L665.97 164.32L666.82 164.2L667.66 164.02L668.51 163.8L669.36 163.53L670.21 163.21L671.06 162.85L671.91 162.44L672.76 162L673.61 161.52L674.46 161.01L675.31 160.47L676.16 159.89L677.01 159.3L677.85 158.68L678.7 158.03L679.55 157.37L680.4 156.7L681.25 156.01L682.1 155.31L682.95 154.61L683.8 153.9L684.65 153.19L685.5 152.49L686.35 151.78L687.19 151.09L688.04 150.4L688.89 149.73L689.74 149.07L690.59 148.44L691.44 147.83L692.29 147.26L693.14 146.72L693.99 146.22L694.84 145.77L695.69 145.37L696.54 145.02L697.38 144.73L698.23 144.5L699.08 144.33L699.93 144.24L700.78 144.22L701.63 144.27L702.48 144.38L703.33 144.55L704.18 144.78L705.03 145.06L705.88 145.38L706.72 145.73L707.57 146.13L708.42 146.55L709.27 147L710.12 147.46L710.97 147.94L711.82 148.43L712.67 148.93L713.52 149.44L714.37 149.95L715.22 150.46L716.06 150.97L716.91 151.48L717.76 151.98L718.61 152.48L719.46 152.96L720.31 153.44L721.16 153.9L722.01 154.35L722.86 154.78L723.71 155.19L724.56 155.58L725.41 155.95L726.25 156.29L727.1 156.62L727.95 156.91L728.8 157.18L729.65 157.42L730.5 157.64L731.35 157.82L732.2 157.97L733.05 158.09L733.9 158.18L734.75 158.23L735.59 158.25L736.44 158.23L737.29 158.17L738.14 158.08L738.99 157.96L739.84 157.81L740.69 157.62L741.54 157.4L742.39 157.16L743.24 156.89L744.09 156.6L744.94 156.28L745.78 155.94L746.63 155.58L747.48 155.19L748.33 154.8L749.18 154.39L750.03 153.96L750.88 153.53L751.73 153.1L752.58 152.65L753.43 152.21L754.28 151.77L755.12 151.33L755.97 150.9L756.82 150.48L757.67 150.07L758.52 149.67L759.37 149.29L760.22 148.93L761.07 148.58L761.92 148.25L762.77 147.94L763.62 147.65L764.46 147.38L765.31 147.14L766.16 146.93L767.01 146.74L767.86 146.58L768.71 146.45L769.56 146.35L770.41 146.28L771.26 146.25L772.11 146.25L772.96 146.29L773.81 146.36L774.65 146.46L775.5 146.59L776.35 146.74L777.2 146.91L778.05 147.1L778.9 147.3L779.75 147.52L780.6 147.74L781.45 147.97L782.3 148.2L783.15 148.44L783.99 148.68L784.84 148.92L785.69 149.17L786.54 149.41L787.39 149.65L788.24 149.89L789.09 150.13L789.94 150.37L790.79 150.6L791.64 150.83L792.49 151.05L793.34 151.26L794.18 151.47L795.03 151.67L795.88 151.86L796.73 152.04L797.58 152.21L798.43 152.37L799.28 152.52L800.13 152.66L800.98 152.78L801.83 152.9L802.68 152.99L803.52 153.08L804.37 153.14L805.22 153.2L806.07 153.23L806.92 153.25L807.77 153.25L808.62 153.23L809.47 153.2L810.32 153.14L811.17 153.08L812.02 152.99L812.86 152.89L813.71 152.78L814.56 152.65L815.41 152.51L816.26 152.36L817.11 152.19L817.96 152.01L818.81 151.81L819.66 151.61L820.51 151.4L821.36 151.18L822.21 150.95L823.05 150.72L823.9 150.48L824.75 150.24L825.6 150L826.45 149.75L827.3 149.5" stroke="#2a2a2a" stroke-width="0.95" stroke-dasharray="1.4 2.7"/>
<path d="M488.5 152.35L489.12 152.39L489.73 152.43L490.35 152.47L490.96 152.5L491.58 152.53L492.19 152.55L492.81 152.57L493.42 152.57L494.04 152.57L494.65 152.55L495.27 152.52L495.88 152.48L496.5 152.42L497.11 152.34L497.73 152.25L498.34 152.14L498.96 152L499.57 151.84L500.19 151.65L500.8 151.44L501.42 151.2L502.03 150.96L502.65 150.71L503.26 150.49L503.88 150.3L504.5 150.15L505.11 150.06L505.73 150.05L506.34 150.11L506.96 150.25L507.57 150.46L508.19 150.74L508.8 151.09L509.42 151.51L510.03 151.98L510.65 152.52L511.26 153.12L511.88 153.77L512.49 154.48L513.11 155.23L513.72 156.03L514.34 156.85L514.95 157.7L515.57 158.56L516.18 159.42L516.8 160.27L517.41 161.11L518.03 161.92L518.65 162.7L519.26 163.44L519.88 164.13L520.49 164.78L521.11 165.4L521.72 165.97L522.34 166.51L522.95 167.01L523.57 167.47L524.18 167.89L524.8 168.28L525.41 168.63L526.03 168.94L526.64 169.2L527.26 169.41L527.87 169.58L528.49 169.69L529.1 169.75L529.72 169.74L530.33 169.69L530.95 169.57L531.56 169.41L532.18 169.19L532.79 168.93L533.41 168.61L534.03 168.26L534.64 167.86L535.26 167.42L535.87 166.94L536.49 166.42L537.1 165.86L537.72 165.27L538.33 164.63L538.95 163.96L539.56 163.24L540.18 162.48L540.79 161.68L541.41 160.83L542.02 159.95L542.64 159.02L543.25 158.07L543.87 157.1L544.48 156.12L545.1 155.14L545.71 154.17L546.33 153.21L546.94 152.27L547.56 151.37L548.17 150.51L548.79 149.69L549.41 148.9L550.02 148.15L550.64 147.44L551.25 146.77L551.87 146.13L552.48 145.53L553.1 144.97L553.71 144.44L554.33 143.94L554.94 143.48L555.56 143.05L556.17 142.64L556.79 142.27L557.4 141.91L558.02 141.59L558.63 141.28L559.25 141L559.86 140.74L560.48 140.51L561.09 140.32L561.71 140.18L562.32 140.1L562.94 140.09L563.55 140.13L564.17 140.23L564.79 140.38L565.4 140.58L566.02 140.84L566.63 141.14L567.25 141.48L567.86 141.86L568.48 142.28L569.09 142.73L569.71 143.22L570.32 143.73L570.94 144.27L571.55 144.83L572.17 145.41L572.78 146L573.4 146.6L574.01 147.2L574.63 147.8L575.24 148.39L575.86 148.96L576.47 149.52L577.09 150.05L577.7 150.56L578.32 151.03L578.94 151.47L579.55 151.88L580.17 152.26L580.78 152.61L581.4 152.94L582.01 153.23L582.63 153.51L583.24 153.76L583.86 153.99L584.47 154.2L585.09 154.4L585.7 154.57L586.32 154.72L586.93 154.86L587.55 154.98L588.16 155.08L588.78 155.16L589.39 155.21L590.01 155.24L590.62 155.25L591.24 155.24L591.85 155.19L592.47 155.12L593.08 155.01L593.7 154.87L594.32 154.69L594.93 154.48L595.55 154.22L596.16 153.91L596.78 153.57L597.39 153.17L598.01 152.73L598.62 152.24L599.24 151.72L599.85 151.16L600.47 150.56L601.08 149.94L601.7 149.29L602.31 148.62L602.93 147.93L603.54 147.22L604.16 146.51L604.77 145.78L605.39 145.04L606 144.31L606.62 143.57L607.23 142.83L607.85 142.09L608.46 141.36L609.08 140.62L609.7 139.89L610.31 139.16L610.93 138.43L611.54 137.71L612.16 136.99L612.77 136.28L613.39 135.57L614 134.87L614.62 134.18L615.23 133.49L615.85 132.81L616.46 132.14L617.08 131.49L617.69 130.84L618.31 130.2L618.92 129.57L619.54 128.94L620.15 128.32L620.77 127.71L621.38 127.09L622 126.48L622.61 125.87L623.23 125.25L623.85 124.64L624.46 124.02L625.08 123.4L625.69 122.79L626.31 122.19L626.92 121.59L627.54 121.02L628.15 120.46L628.77 119.92L629.38 119.41L630 118.92L630.61 118.45L631.23 118.01L631.84 117.59L632.46 117.18L633.07 116.79L633.69 116.42L634.3 116.06L634.92 115.71L635.53 115.37L636.15 115.04L636.76 114.72L637.38 114.4L637.99 114.09L638.61 113.78L639.23 113.47L639.84 113.16L640.46 112.84L641.07 112.52L641.69 112.2L642.3 111.87L642.92 111.54L643.53 111.21L644.15 110.87L644.76 110.52L645.38 110.17L645.99 109.82L646.61 109.46L647.22 109.1L647.84 108.74L648.45 108.37L649.07 108L649.68 107.63L650.3 107.25L650.91 106.87L651.53 106.49L652.14 106.1L652.76 105.71L653.37 105.32L653.99 104.92L654.61 104.52L655.22 104.11L655.84 103.7L656.45 103.27L657.07 102.85L657.68 102.41L658.3 101.97L658.91 101.51L659.53 101.05L660.14 100.57L660.76 100.08L661.37 99.58L661.99 99.07L662.6 98.54L663.22 98L663.83 97.45L664.45 96.88L665.06 96.29L665.68 95.69L666.29 95.08L666.91 94.46L667.52 93.83L668.14 93.19L668.75 92.54L669.37 91.89L669.99 91.24L670.6 90.59L671.22 89.93L671.83 89.28L672.45 88.63L673.06 87.98L673.68 87.34L674.29 86.7L674.91 86.08L675.52 85.46L676.14 84.85L676.75 84.26L677.37 83.67L677.98 83.1L678.6 82.53L679.21 81.97L679.83 81.41L680.44 80.87L681.06 80.32L681.67 79.78L682.29 79.24L682.9 78.71L683.52 78.18L684.14 77.64L684.75 77.11L685.37 76.57L685.98 76.04L686.6 75.5L687.21 74.95L687.83 74.41L688.44 73.85L689.06 73.3L689.67 72.73L690.29 72.17L690.9 71.59L691.52 71.02L692.13 70.43L692.75 69.85L693.36 69.26L693.98 68.66L694.59 68.06L695.21 67.45L695.82 66.84L696.44 66.23L697.05 65.61L697.67 64.98L698.28 64.35L698.9 63.72L699.52 63.08L700.13 62.43L700.75 61.78L701.36 61.13L701.98 60.46L702.59 59.79L703.21 59.11L703.82 58.42L704.44 57.72L705.05 57.01L705.67 56.29L706.28 55.56L706.9 54.81L707.51 54.06L708.13 53.29L708.74 52.5L709.36 51.7L709.97 50.89L710.59 50.06L711.2 49.22L711.82 48.35L712.43 47.48L713.05 46.59L713.66 45.69L714.28 44.78L714.9 43.87L715.51 42.94L716.13 42L716.74 41.06L717.36 40.12L717.97 39.17L718.59 38.22L719.2 37.27L719.82 36.32L720.43 35.37L721.05 34.42L721.66 33.47L722.28 32.53L722.89 31.6L723.51 30.67L724.12 29.74L724.74 28.81L725.35 27.88L725.97 26.94L726.58 26L727.2 25.05L727.81 24.08L728.43 23.11L729.05 22.12L729.66 21.13L730.28 20.13L730.89 19.12L731.51 18.1L732.12 17.08L732.74 16.05L733.35 15.03L733.97 14" stroke="#0c4ef0" stroke-width="2.05"/>
<path d="M492.18 148V181.5M490.48 148H493.88M490.48 181.5H493.88M498.01 131V168.5M496.31 131H499.71M496.31 168.5H499.71M503.84 143.25V156.25M502.14 143.25H505.54M502.14 156.25H505.54M509.68 142.38V150.88M507.98 142.38H511.38M507.98 150.88H511.38M515.51 145.25V158.75M513.81 145.25H517.21M513.81 158.75H517.21M521.34 163.25V169.25M519.64 163.25H523.04M519.64 169.25H523.04M527.17 157.5V174M525.47 157.5H528.88M525.47 174H528.88M533.01 165.33V174.83M531.31 165.33H534.71M531.31 174.83H534.71M538.84 160.75V168.75M537.14 160.75H540.54M537.14 168.75H540.54M544.67 155.95V163.2M542.97 155.95H546.38M542.97 163.2H546.38M550.51 145.25V151.75M548.81 145.25H552.21M548.81 151.75H552.21M556.34 139.63V147.12M554.64 139.63H558.04M554.64 147.12H558.04M562.17 136.75V146.25M560.47 136.75H563.88M560.47 146.25H563.88M568.01 141.28V148.53M566.31 141.28H569.71M566.31 148.53H569.71M573.84 148V153M572.14 148H575.54M572.14 153H575.54M579.67 155.1V157.6M577.97 155.1H581.38M577.97 157.6H581.38M585.51 160V166M583.81 160H587.21M583.81 166H587.21M591.34 161.5V166.5M589.64 161.5H593.04M589.64 166.5H593.04M597.17 159V162M595.47 159H598.88M595.47 162H598.88M603.01 154.73V157.97M601.31 154.73H604.71M601.31 157.97H604.71M608.84 149.75V152.25M607.14 149.75H610.54M607.14 152.25H610.54M614.67 144.43V149.18M612.97 144.43H616.38M612.97 149.18H616.38M620.51 137.25V140.75M618.81 137.25H622.21M618.81 140.75H622.21M626.34 133.25V136.25M624.64 133.25H628.04M624.64 136.25H628.04M632.17 132.5V135.5M630.47 132.5H633.88M630.47 135.5H633.88M638.01 130V133.5M636.31 130H639.71M636.31 133.5H639.71M643.84 130.75V133.75M642.14 130.75H645.54M642.14 133.75H645.54M649.67 131.75V134.25M647.97 131.75H651.38M647.97 134.25H651.38M655.51 128.25V131.25M653.81 128.25H657.21M653.81 131.25H657.21M661.34 125V128M659.64 125H663.04M659.64 128H663.04M667.17 123.5V126M665.47 123.5H668.88M665.47 126H668.88M673.01 119.25V121.75M671.31 119.25H674.71M671.31 121.75H674.71M678.84 114.75V117.25M677.14 114.75H680.54M677.14 117.25H680.54M684.67 110.75V112.75M682.97 110.75H686.38M682.97 112.75H686.38M690.51 106.5V109M688.81 106.5H692.21M688.81 109H692.21M696.34 100.75V102.75M694.64 100.75H698.04M694.64 102.75H698.04M702.17 97.58V99.58M700.47 97.58H703.88M700.47 99.58H703.88M708.01 93.33V95.33M706.31 93.33H709.71M706.31 95.33H709.71M713.84 90.1V92.1M712.14 90.1H715.54M712.14 92.1H715.54M719.67 84.35V86.35M717.97 84.35H721.38M717.97 86.35H721.38M725.51 80.85V82.85M723.81 80.85H727.21M723.81 82.85H727.21M731.34 78.38V80.38M729.64 78.38H733.04M729.64 80.38H733.04M737.17 73.38V75.38M735.47 73.38H738.88M735.47 75.38H738.88M743.01 68.4V70.4M741.31 68.4H744.71M741.31 70.4H744.71M748.84 64.65V66.65M747.14 64.65H750.54M747.14 66.65H750.54M754.67 57.75V59.75M752.97 57.75H756.38M752.97 59.75H756.38M760.51 53.25V55.25M758.81 53.25H762.21M758.81 55.25H762.21M766.34 49.5V51.5M764.64 49.5H768.04M764.64 51.5H768.04M772.17 44V46M770.47 44H773.88M770.47 46H773.88M778.01 38.5V40.5M776.31 38.5H779.71M776.31 40.5H779.71M783.84 33.5V35.5M782.14 33.5H785.54M782.14 35.5H785.54M789.67 29.5V31.5M787.97 29.5H791.38M787.97 31.5H791.38M795.51 23.5V25.5M793.81 23.5H797.21M793.81 25.5H797.21" stroke="#555" stroke-width="0.9"/>
<g fill="#000"><circle cx="492.18" cy="164.75" r="1.6"/><circle cx="498.01" cy="149.75" r="1.6"/><circle cx="503.84" cy="149.75" r="1.6"/><circle cx="509.68" cy="146.62" r="1.6"/><circle cx="515.51" cy="152" r="1.6"/><circle cx="521.34" cy="166.25" r="1.6"/><circle cx="527.17" cy="165.75" r="1.6"/><circle cx="533.01" cy="170.08" r="1.6"/><circle cx="538.84" cy="164.75" r="1.6"/><circle cx="544.67" cy="159.58" r="1.6"/><circle cx="550.51" cy="148.5" r="1.6"/><circle cx="556.34" cy="143.38" r="1.6"/><circle cx="562.17" cy="141.5" r="1.6"/><circle cx="568.01" cy="144.9" r="1.6"/><circle cx="573.84" cy="150.5" r="1.6"/><circle cx="579.67" cy="156.35" r="1.6"/><circle cx="585.51" cy="163" r="1.6"/><circle cx="591.34" cy="164" r="1.6"/><circle cx="597.17" cy="160.5" r="1.6"/><circle cx="603.01" cy="156.35" r="1.6"/><circle cx="608.84" cy="151" r="1.6"/><circle cx="614.67" cy="146.8" r="1.6"/><circle cx="620.51" cy="139" r="1.6"/><circle cx="626.34" cy="134.75" r="1.6"/><circle cx="632.17" cy="134" r="1.6"/><circle cx="638.01" cy="131.75" r="1.6"/><circle cx="643.84" cy="132.25" r="1.6"/><circle cx="649.67" cy="133" r="1.6"/><circle cx="655.51" cy="129.75" r="1.6"/><circle cx="661.34" cy="126.5" r="1.6"/><circle cx="667.17" cy="124.75" r="1.6"/><circle cx="673.01" cy="120.5" r="1.6"/><circle cx="678.84" cy="116" r="1.6"/><circle cx="684.67" cy="111.75" r="1.6"/><circle cx="690.51" cy="107.75" r="1.6"/><circle cx="696.34" cy="101.75" r="1.6"/><circle cx="702.17" cy="98.58" r="1.6"/><circle cx="708.01" cy="94.33" r="1.6"/><circle cx="713.84" cy="91.1" r="1.6"/><circle cx="719.67" cy="85.35" r="1.6"/><circle cx="725.51" cy="81.85" r="1.6"/><circle cx="731.34" cy="79.38" r="1.6"/><circle cx="737.17" cy="74.38" r="1.6"/><circle cx="743.01" cy="69.4" r="1.6"/><circle cx="748.84" cy="65.65" r="1.6"/><circle cx="754.67" cy="58.75" r="1.6"/><circle cx="760.51" cy="54.25" r="1.6"/><circle cx="766.34" cy="50.5" r="1.6"/><circle cx="772.17" cy="45" r="1.6"/><circle cx="778.01" cy="39.5" r="1.6"/><circle cx="783.84" cy="34.5" r="1.6"/><circle cx="789.67" cy="30.5" r="1.6"/><circle cx="795.51" cy="24.5" r="1.6"/></g>
<path d="M488.5 153.5L489.35 153.56L490.2 153.61L491.05 153.66L491.9 153.69L492.75 153.7L493.59 153.68L494.44 153.63L495.29 153.54L496.14 153.42L496.99 153.25L497.84 153.07L498.69 152.88L499.54 152.69L500.39 152.51L501.24 152.37L502.09 152.26L502.94 152.22L503.78 152.24L504.63 152.33L505.48 152.5L506.33 152.76L507.18 153.11L508.03 153.57L508.88 154.14L509.73 154.84L510.58 155.66L511.43 156.61L512.28 157.72L513.12 158.96L513.97 160.33L514.82 161.79L515.67 163.29L516.52 164.82L517.37 166.34L518.22 167.81L519.07 169.2L519.92 170.5L520.77 171.72L521.62 172.84L522.46 173.88L523.31 174.83L524.16 175.69L525.01 176.47L525.86 177.15L526.71 177.73L527.56 178.21L528.41 178.58L529.26 178.84L530.11 178.98L530.96 179L531.81 178.9L532.65 178.68L533.5 178.37L534.35 177.97L535.2 177.51L536.05 176.99L536.9 176.43L537.75 175.82L538.6 175.18L539.45 174.5L540.3 173.79L541.15 173.04L541.99 172.27L542.84 171.47L543.69 170.67L544.54 169.87L545.39 169.1L546.24 168.36L547.09 167.66L547.94 167.03L548.79 166.45L549.64 165.92L550.49 165.43L551.34 164.97L552.18 164.54L553.03 164.13L553.88 163.73L554.73 163.37L555.58 163.06L556.43 162.82L557.28 162.67L558.13 162.62L558.98 162.68L559.83 162.84L560.68 163.1L561.52 163.44L562.37 163.86L563.22 164.35L564.07 164.9L564.92 165.5L565.77 166.16L566.62 166.86L567.47 167.63L568.32 168.45L569.17 169.33L570.02 170.27L570.86 171.28L571.71 172.35L572.56 173.47L573.41 174.63L574.26 175.81L575.11 177.01L575.96 178.2L576.81 179.38L577.66 180.53L578.51 181.65L579.36 182.72L580.21 183.76L581.05 184.75L581.9 185.69L582.75 186.59L583.6 187.45L584.45 188.26L585.3 189.02L586.15 189.73L587 190.4L587.85 191.01L588.7 191.57L589.55 192.09L590.39 192.56L591.24 192.98L592.09 193.35L592.94 193.67L593.79 193.95L594.64 194.18L595.49 194.35L596.34 194.46L597.19 194.51L598.04 194.48L598.89 194.39L599.74 194.24L600.58 194.03L601.43 193.78L602.28 193.48L603.13 193.15L603.98 192.78L604.83 192.39L605.68 191.98L606.53 191.55L607.38 191.12L608.23 190.67L609.08 190.22L609.92 189.77L610.77 189.32L611.62 188.87L612.47 188.44L613.32 188.01L614.17 187.6L615.02 187.2L615.87 186.83L616.72 186.48L617.57 186.15L618.42 185.85L619.26 185.59L620.11 185.35L620.96 185.13L621.81 184.95L622.66 184.79L623.51 184.65L624.36 184.54L625.21 184.46L626.06 184.4L626.91 184.37L627.76 184.36L628.61 184.38L629.45 184.43L630.3 184.52L631.15 184.66L632 184.83L632.85 185.06L633.7 185.35L634.55 185.68L635.4 186.05L636.25 186.46L637.1 186.9L637.95 187.35L638.79 187.82L639.64 188.3L640.49 188.77L641.34 189.24L642.19 189.69L643.04 190.14L643.89 190.57L644.74 190.99L645.59 191.4L646.44 191.79L647.29 192.16L648.14 192.52L648.98 192.86L649.83 193.18L650.68 193.48L651.53 193.76L652.38 194.02L653.23 194.26L654.08 194.48L654.93 194.67L655.78 194.85L656.63 195.01L657.48 195.14L658.32 195.26L659.17 195.36L660.02 195.44L660.87 195.5L661.72 195.55L662.57 195.58L663.42 195.6L664.27 195.6L665.12 195.58L665.97 195.56L666.82 195.52L667.66 195.47L668.51 195.41L669.36 195.33L670.21 195.25L671.06 195.17L671.91 195.07L672.76 194.97L673.61 194.87L674.46 194.76L675.31 194.64L676.16 194.53L677.01 194.41L677.85 194.3L678.7 194.18L679.55 194.06L680.4 193.95L681.25 193.83L682.1 193.72L682.95 193.61L683.8 193.5L684.65 193.4L685.5 193.3L686.35 193.2L687.19 193.11L688.04 193.03L688.89 192.95L689.74 192.88L690.59 192.81L691.44 192.75L692.29 192.7L693.14 192.66L693.99 192.63L694.84 192.61L695.69 192.6L696.54 192.6L697.38 192.6L698.23 192.62L699.08 192.64L699.93 192.68L700.78 192.71L701.63 192.76L702.48 192.8L703.33 192.86L704.18 192.91L705.03 192.97L705.88 193.03L706.72 193.09L707.57 193.15L708.42 193.21L709.27 193.26L710.12 193.32L710.97 193.37L711.82 193.42L712.67 193.46L713.52 193.51L714.37 193.55L715.22 193.58L716.06 193.62L716.91 193.65L717.76 193.68L718.61 193.7L719.46 193.73L720.31 193.75L721.16 193.78L722.01 193.8L722.86 193.81L723.71 193.83L724.56 193.85L725.41 193.87L726.25 193.88L727.1 193.9L727.95 193.91L728.8 193.93L729.65 193.94L730.5 193.96L731.35 193.97L732.2 193.99L733.05 194.01L733.9 194.02L734.75 194.04L735.59 194.06L736.44 194.08L737.29 194.1L738.14 194.12L738.99 194.14L739.84 194.17L740.69 194.19L741.54 194.21L742.39 194.23L743.24 194.26L744.09 194.28L744.94 194.31L745.78 194.33L746.63 194.35L747.48 194.38L748.33 194.4L749.18 194.43L750.03 194.45L750.88 194.47L751.73 194.5L752.58 194.52L753.43 194.54L754.28 194.56L755.12 194.59L755.97 194.61L756.82 194.63L757.67 194.65L758.52 194.67L759.37 194.69L760.22 194.7L761.07 194.72L761.92 194.74L762.77 194.75L763.62 194.76L764.46 194.78L765.31 194.79L766.16 194.8L767.01 194.81L767.86 194.82L768.71 194.82L769.56 194.83L770.41 194.83L771.26 194.84L772.11 194.84L772.96 194.84L773.81 194.84L774.65 194.84L775.5 194.83L776.35 194.83L777.2 194.83L778.05 194.83L778.9 194.82L779.75 194.82L780.6 194.82L781.45 194.81L782.3 194.81L783.15 194.81L783.99 194.8L784.84 194.8L785.69 194.8L786.54 194.8L787.39 194.8L788.24 194.8L789.09 194.8L789.94 194.81L790.79 194.81L791.64 194.82L792.49 194.83L793.34 194.84L794.18 194.85L795.03 194.86L795.88 194.87L796.73 194.89L797.58 194.91L798.43 194.92L799.28 194.94L800.13 194.96L800.98 194.99L801.83 195.01L802.68 195.03L803.52 195.06L804.37 195.09L805.22 195.11L806.07 195.14L806.92 195.17L807.77 195.2L808.62 195.23L809.47 195.27L810.32 195.3L811.17 195.33L812.02 195.37L812.86 195.4L813.71 195.44L814.56 195.48L815.41 195.51L816.26 195.55L817.11 195.59L817.96 195.63L818.81 195.67L819.66 195.71L820.51 195.75L821.36 195.79L822.21 195.83L823.05 195.87L823.9 195.91L824.75 195.95L825.6 195.99L826.45 196.03L827.3 196.08" stroke="#ae00ae" stroke-width="2.1" stroke-dasharray="5.4 1.3 2.5 1.3"/>
<path d="M488.5 153.5L489.26 153.55L490.02 153.59L490.78 153.62L491.55 153.65L492.31 153.67L493.07 153.66L493.83 153.64L494.59 153.6L495.35 153.53L496.11 153.43L496.88 153.31L497.64 153.16L498.4 153L499.16 152.81L499.92 152.62L500.68 152.42L501.44 152.22L502.21 152.02L502.97 151.82L503.73 151.65L504.49 151.52L505.25 151.46L506.01 151.48L506.77 151.6L507.54 151.83L508.3 152.17L509.06 152.63L509.82 153.19L510.58 153.85L511.34 154.63L512.1 155.51L512.86 156.49L513.63 157.56L514.39 158.71L515.15 159.9L515.91 161.13L516.67 162.37L517.43 163.6L518.19 164.81L518.96 165.96L519.72 167.06L520.48 168.1L521.24 169.07L522 169.98L522.76 170.82L523.52 171.59L524.29 172.28L525.05 172.89L525.81 173.42L526.57 173.87L527.33 174.24L528.09 174.52L528.85 174.72L529.62 174.83L530.38 174.85L531.14 174.78L531.9 174.62L532.66 174.38L533.42 174.07L534.18 173.68L534.95 173.22L535.71 172.7L536.47 172.11L537.23 171.47L537.99 170.77L538.75 170.02L539.51 169.23L540.28 168.39L541.04 167.51L541.8 166.6L542.56 165.65L543.32 164.68L544.08 163.7L544.84 162.7L545.61 161.7L546.37 160.71L547.13 159.72L547.89 158.75L548.65 157.81L549.41 156.9L550.17 156.03L550.94 155.21L551.7 154.46L552.46 153.77L553.22 153.16L553.98 152.63L554.74 152.16L555.5 151.76L556.26 151.41L557.03 151.11L557.79 150.85L558.55 150.62L559.31 150.41L560.07 150.23L560.83 150.08L561.59 150L562.36 149.97L563.12 150.01L563.88 150.11L564.64 150.28L565.4 150.51L566.16 150.81L566.92 151.17L567.69 151.6L568.45 152.1L569.21 152.65L569.97 153.28L570.73 153.97L571.49 154.72L572.25 155.52L573.02 156.36L573.78 157.22L574.54 158.1L575.3 158.97L576.06 159.83L576.82 160.66L577.58 161.45L578.35 162.19L579.11 162.88L579.87 163.52L580.63 164.13L581.39 164.7L582.15 165.24L582.91 165.75L583.68 166.25L584.44 166.74L585.2 167.22L585.96 167.69L586.72 168.16L587.48 168.61L588.24 169.02L589.01 169.39L589.77 169.72L590.53 169.97L591.29 170.15L592.05 170.25L592.81 170.25L593.57 170.16L594.34 169.98L595.1 169.74L595.86 169.43L596.62 169.06L597.38 168.65L598.14 168.2L598.9 167.73L599.66 167.23L600.43 166.7L601.19 166.15L601.95 165.56L602.71 164.95L603.47 164.3L604.23 163.61L604.99 162.89L605.76 162.12L606.52 161.32L607.28 160.48L608.04 159.61L608.8 158.71L609.56 157.79L610.32 156.86L611.09 155.91L611.85 154.95L612.61 153.99L613.37 153.02L614.13 152.07L614.89 151.12L615.65 150.19L616.42 149.28L617.18 148.39L617.94 147.53L618.7 146.7L619.46 145.9L620.22 145.13L620.98 144.39L621.75 143.68L622.51 143L623.27 142.35L624.03 141.73L624.79 141.15L625.55 140.59L626.31 140.07L627.08 139.58L627.84 139.12L628.6 138.69L629.36 138.3L630.12 137.94L630.88 137.61L631.64 137.31L632.41 137.03L633.17 136.78L633.93 136.55L634.69 136.34L635.45 136.16L636.21 135.99L636.97 135.83L637.74 135.69L638.5 135.56L639.26 135.44L640.02 135.33L640.78 135.23L641.54 135.13L642.3 135.04L643.06 134.95L643.83 134.85L644.59 134.76L645.35 134.67L646.11 134.57L646.87 134.47L647.63 134.36L648.39 134.25L649.16 134.13L649.92 133.99L650.68 133.85L651.44 133.69L652.2 133.52L652.96 133.34L653.72 133.14L654.49 132.92L655.25 132.68L656.01 132.43L656.77 132.15L657.53 131.86L658.29 131.55L659.05 131.21L659.82 130.86L660.58 130.48L661.34 130.08L662.1 129.65L662.86 129.2L663.62 128.72L664.38 128.22L665.15 127.69L665.91 127.14L666.67 126.57L667.43 125.97L668.19 125.35L668.95 124.71L669.71 124.06L670.48 123.39L671.24 122.7L672 122L672.76 121.28L673.52 120.56L674.28 119.82L675.04 119.08L675.81 118.33L676.57 117.57L677.33 116.81L678.09 116.05L678.85 115.28L679.61 114.52L680.37 113.76L681.14 113L681.9 112.25L682.66 111.51L683.42 110.77L684.18 110.05L684.94 109.34L685.7 108.65L686.46 107.97L687.23 107.31L687.99 106.67L688.75 106.05L689.51 105.45L690.27 104.86L691.03 104.28L691.79 103.71L692.56 103.16L693.32 102.61L694.08 102.06L694.84 101.52L695.6 100.98L696.36 100.44L697.12 99.9L697.89 99.36L698.65 98.81L699.41 98.25L700.17 97.68L700.93 97.11L701.69 96.54L702.45 95.96L703.22 95.37L703.98 94.79L704.74 94.21L705.5 93.62L706.26 93.05L707.02 92.47L707.78 91.9L708.55 91.34L709.31 90.79L710.07 90.25L710.83 89.71L711.59 89.19L712.35 88.68L713.11 88.18L713.88 87.69L714.64 87.2L715.4 86.72L716.16 86.24L716.92 85.76L717.68 85.29L718.44 84.81L719.21 84.34L719.97 83.86L720.73 83.37L721.49 82.88L722.25 82.38L723.01 81.88L723.77 81.36L724.54 80.84L725.3 80.31L726.06 79.77L726.82 79.22L727.58 78.66L728.34 78.09L729.1 77.52L729.86 76.93L730.63 76.34L731.39 75.73L732.15 75.12L732.91 74.5L733.67 73.87L734.43 73.23L735.19 72.58L735.96 71.93L736.72 71.26L737.48 70.59L738.24 69.9L739 69.21L739.76 68.52L740.52 67.81L741.29 67.1L742.05 66.38L742.81 65.65L743.57 64.92L744.33 64.18L745.09 63.43L745.85 62.68L746.62 61.92L747.38 61.16L748.14 60.4L748.9 59.63L749.66 58.86L750.42 58.09L751.18 57.32L751.95 56.55L752.71 55.78L753.47 55.02L754.23 54.26L754.99 53.5L755.75 52.75L756.51 52.01L757.28 51.27L758.04 50.55L758.8 49.83L759.56 49.11L760.32 48.41L761.08 47.7L761.84 47L762.61 46.31L763.37 45.62L764.13 44.92L764.89 44.23L765.65 43.54L766.41 42.85L767.17 42.15L767.94 41.45L768.7 40.75L769.46 40.04L770.22 39.33L770.98 38.61L771.74 37.89L772.5 37.17L773.26 36.44L774.03 35.72L774.79 34.99L775.55 34.27L776.31 33.54L777.07 32.82L777.83 32.1L778.59 31.39L779.36 30.68L780.12 29.97L780.88 29.28L781.64 28.58L782.4 27.89L783.16 27.2L783.92 26.51L784.69 25.82L785.45 25.12L786.21 24.41L786.97 23.7L787.73 22.97L788.49 22.24L789.25 21.5L790.02 20.75L790.78 20L791.54 19.25L792.3 18.5" stroke="#d40000" stroke-width="2.1" stroke-dasharray="15.6 2.1"/>
</g>
<path d="M477.5 199.5v-4M477.5 24.5v4M489.5 199.5v-2.5M489.5 24.5v2.5M500.5 199.5v-2.5M500.5 24.5v2.5M512.5 199.5v-2.5M512.5 24.5v2.5M524.5 199.5v-2.5M524.5 24.5v2.5M535.5 199.5v-4M535.5 24.5v4M547.5 199.5v-2.5M547.5 24.5v2.5M559.5 199.5v-2.5M559.5 24.5v2.5M570.5 199.5v-2.5M570.5 24.5v2.5M582.5 199.5v-2.5M582.5 24.5v2.5M594.5 199.5v-4M594.5 24.5v4M605.5 199.5v-2.5M605.5 24.5v2.5M617.5 199.5v-2.5M617.5 24.5v2.5M629.5 199.5v-2.5M629.5 24.5v2.5M640.5 199.5v-2.5M640.5 24.5v2.5M652.5 199.5v-4M652.5 24.5v4M664.5 199.5v-2.5M664.5 24.5v2.5M675.5 199.5v-2.5M675.5 24.5v2.5M687.5 199.5v-2.5M687.5 24.5v2.5M699.5 199.5v-2.5M699.5 24.5v2.5M710.5 199.5v-4M710.5 24.5v4M722.5 199.5v-2.5M722.5 24.5v2.5M734.5 199.5v-2.5M734.5 24.5v2.5M745.5 199.5v-2.5M745.5 24.5v2.5M757.5 199.5v-2.5M757.5 24.5v2.5M769.5 199.5v-4M769.5 24.5v4M780.5 199.5v-2.5M780.5 24.5v2.5M792.5 199.5v-2.5M792.5 24.5v2.5M804.5 199.5v-2.5M804.5 24.5v2.5M815.5 199.5v-2.5M815.5 24.5v2.5M827.5 199.5v-4M827.5 24.5v4" stroke="#b4b4b4" stroke-width="1" fill="none"/>
<path d="M477.5 199.5h4M827.5 199.5h-4M477.5 194.5h2.5M827.5 194.5h-2.5M477.5 189.5h2.5M827.5 189.5h-2.5M477.5 184.5h2.5M827.5 184.5h-2.5M477.5 179.5h2.5M827.5 179.5h-2.5M477.5 174.5h4M827.5 174.5h-4M477.5 169.5h2.5M827.5 169.5h-2.5M477.5 164.5h2.5M827.5 164.5h-2.5M477.5 159.5h2.5M827.5 159.5h-2.5M477.5 154.5h2.5M827.5 154.5h-2.5M477.5 149.5h4M827.5 149.5h-4M477.5 144.5h2.5M827.5 144.5h-2.5M477.5 139.5h2.5M827.5 139.5h-2.5M477.5 134.5h2.5M827.5 134.5h-2.5M477.5 129.5h2.5M827.5 129.5h-2.5M477.5 124.5h4M827.5 124.5h-4M477.5 119.5h2.5M827.5 119.5h-2.5M477.5 114.5h2.5M827.5 114.5h-2.5M477.5 109.5h2.5M827.5 109.5h-2.5M477.5 104.5h2.5M827.5 104.5h-2.5M477.5 99.5h4M827.5 99.5h-4M477.5 94.5h2.5M827.5 94.5h-2.5M477.5 89.5h2.5M827.5 89.5h-2.5M477.5 84.5h2.5M827.5 84.5h-2.5M477.5 79.5h2.5M827.5 79.5h-2.5M477.5 74.5h4M827.5 74.5h-4M477.5 69.5h2.5M827.5 69.5h-2.5M477.5 64.5h2.5M827.5 64.5h-2.5M477.5 59.5h2.5M827.5 59.5h-2.5M477.5 54.5h2.5M827.5 54.5h-2.5M477.5 49.5h4M827.5 49.5h-4M477.5 44.5h2.5M827.5 44.5h-2.5M477.5 39.5h2.5M827.5 39.5h-2.5M477.5 34.5h2.5M827.5 34.5h-2.5M477.5 29.5h2.5M827.5 29.5h-2.5M477.5 24.5h4M827.5 24.5h-4" stroke="#c4c4c4" stroke-width="1" fill="none"/>
<path d="M477.5 24V200" stroke="#949494" stroke-width="1" fill="none"/>
<path d="M827.5 24V200" stroke="#6c6c6c" stroke-width="1" fill="none"/>
<path d="M477 24.5H828" stroke="#aeaeae" stroke-width="1" fill="none"/>
<path d="M477 200H828" stroke="#a4a4a4" stroke-width="1" fill="none"/>
<g font-family="'Liberation Serif', serif" font-size="16.4" fill="#0a0a0a" stroke="#0a0a0a" stroke-width="0.2">
<text transform="translate(477.5 215) scale(0.955 1)" text-anchor="middle" font-size="17.1">0.00</text>
<text transform="translate(535.83 215) scale(0.955 1)" text-anchor="middle" font-size="17.1">0.05</text>
<text transform="translate(594.17 215) scale(0.955 1)" text-anchor="middle" font-size="17.1">0.10</text>
<text transform="translate(652.5 215) scale(0.955 1)" text-anchor="middle" font-size="17.1">0.15</text>
<text transform="translate(710.83 215) scale(0.955 1)" text-anchor="middle" font-size="17.1">0.20</text>
<text transform="translate(769.17 215) scale(0.955 1)" text-anchor="middle" font-size="17.1">0.25</text>
<text transform="translate(827.5 215) scale(0.955 1)" text-anchor="middle" font-size="17.1">0.30</text>
<text transform="translate(474.7 204.9) scale(0.945 1)" text-anchor="end" font-size="17.1">0.8</text>
<text transform="translate(474.7 179.9) scale(0.945 1)" text-anchor="end" font-size="17.1">0.9</text>
<text transform="translate(474.7 154.9) scale(0.945 1)" text-anchor="end" font-size="17.1">1.0</text>
<text transform="translate(474.7 129.9) scale(0.945 1)" text-anchor="end" font-size="17.1">1.1</text>
<text transform="translate(474.7 104.9) scale(0.945 1)" text-anchor="end" font-size="17.1">1.2</text>
<text transform="translate(474.7 79.9) scale(0.945 1)" text-anchor="end" font-size="17.1">1.3</text>
<text transform="translate(474.7 54.9) scale(0.945 1)" text-anchor="end" font-size="17.1">1.4</text>
<text transform="translate(474.7 29.9) scale(0.945 1)" text-anchor="end" font-size="17.1">1.5</text>
<text x="652.5" y="13.9" text-anchor="middle" font-size="17.1">z=0.5</text>
<text x="652.5" y="236.7" text-anchor="middle" font-size="17">k[h/Mpc]</text>
</g>
<g transform="translate(444 141) rotate(-90)" font-family="'Liberation Serif', serif" fill="#0a0a0a" stroke="#0a0a0a" stroke-width="0.2">
<text x="0" y="0" font-size="16" font-style="italic">P</text>
<text x="8.2" y="-6.4" font-size="12.3">ss</text>
<text transform="translate(9.4 4) scale(0.885 1)" font-size="13">01</text>
<text x="21.8" y="1.8" font-size="19">/</text>
<text x="28" y="0" font-size="16" font-style="italic">P</text>
<text x="37.9" y="2.7" font-size="12">NW</text>
</g>
</g>
<g id="panel3">
<g clip-path="url(#c3)" fill="none">
<path transform="translate(0 0)" d="M57.7 403.85L58.55 403.74L59.4 403.62L60.25 403.5L61.1 403.36L61.95 403.21L62.79 403.03L63.64 402.83L64.49 402.6L65.34 402.33L66.19 402.04L67.04 401.73L67.89 401.43L68.74 401.14L69.59 400.89L70.44 400.68L71.29 400.53L72.14 400.45L72.98 400.47L73.83 400.58L74.68 400.8L75.53 401.13L76.38 401.55L77.23 402.05L78.08 402.64L78.93 403.31L79.78 404.05L80.63 404.86L81.48 405.72L82.32 406.64L83.17 407.61L84.02 408.6L84.87 409.62L85.72 410.65L86.57 411.68L87.42 412.69L88.27 413.68L89.12 414.64L89.97 415.57L90.82 416.47L91.66 417.33L92.51 418.15L93.36 418.93L94.21 419.65L95.06 420.29L95.91 420.8L96.76 421.14L97.61 421.29L98.46 421.19L99.31 420.85L100.16 420.29L101.01 419.56L101.85 418.68L102.7 417.7L103.55 416.64L104.4 415.55L105.25 414.47L106.1 413.39L106.95 412.32L107.8 411.23L108.65 410.11L109.5 408.95L110.35 407.73L111.19 406.44L112.04 405.08L112.89 403.68L113.74 402.26L114.59 400.84L115.44 399.44L116.29 398.08L117.14 396.78L117.99 395.56L118.84 394.42L119.69 393.38L120.54 392.43L121.38 391.6L122.23 390.87L123.08 390.27L123.93 389.77L124.78 389.35L125.63 389L126.48 388.72L127.33 388.47L128.18 388.25L129.03 388.05L129.88 387.89L130.72 387.81L131.57 387.84L132.42 387.97L133.27 388.2L134.12 388.52L134.97 388.94L135.82 389.45L136.67 390.04L137.52 390.73L138.37 391.49L139.22 392.34L140.06 393.26L140.91 394.25L141.76 395.31L142.61 396.43L143.46 397.59L144.31 398.79L145.16 400.02L146.01 401.27L146.86 402.54L147.71 403.8L148.56 405.07L149.41 406.33L150.25 407.56L151.1 408.78L151.95 409.96L152.8 411.11L153.65 412.21L154.5 413.27L155.35 414.27L156.2 415.21L157.05 416.09L157.9 416.91L158.75 417.67L159.59 418.35L160.44 418.97L161.29 419.5L162.14 419.94L162.99 420.29L163.84 420.51L164.69 420.62L165.54 420.59L166.39 420.43L167.24 420.15L168.09 419.76L168.94 419.27L169.78 418.69L170.63 418.04L171.48 417.31L172.33 416.54L173.18 415.71L174.03 414.84L174.88 413.95L175.73 413.04L176.58 412.11L177.43 411.17L178.28 410.23L179.12 409.28L179.97 408.34L180.82 407.39L181.67 406.46L182.52 405.55L183.37 404.65L184.22 403.77L185.07 402.92L185.92 402.09L186.77 401.31L187.62 400.55L188.46 399.84L189.31 399.16L190.16 398.51L191.01 397.9L191.86 397.32L192.71 396.78L193.56 396.26L194.41 395.78L195.26 395.33L196.11 394.9L196.96 394.51L197.81 394.15L198.65 393.81L199.5 393.52L200.35 393.31L201.2 393.2L202.05 393.22L202.9 393.41L203.75 393.75L204.6 394.24L205.45 394.84L206.3 395.55L207.15 396.34L207.99 397.2L208.84 398.11L209.69 399.05L210.54 399.99L211.39 400.93L212.24 401.85L213.09 402.75L213.94 403.64L214.79 404.5L215.64 405.34L216.49 406.16L217.34 406.95L218.18 407.73L219.03 408.47L219.88 409.2L220.73 409.89L221.58 410.56L222.43 411.2L223.28 411.82L224.13 412.39L224.98 412.94L225.83 413.44L226.68 413.91L227.52 414.33L228.37 414.71L229.22 415.04L230.07 415.32L230.92 415.55L231.77 415.72L232.62 415.83L233.47 415.89L234.32 415.88L235.17 415.82L236.02 415.7L236.86 415.52L237.71 415.3L238.56 415.03L239.41 414.71L240.26 414.35L241.11 413.94L241.96 413.5L242.81 413.02L243.66 412.51L244.51 411.97L245.36 411.39L246.21 410.8L247.05 410.18L247.9 409.53L248.75 408.87L249.6 408.2L250.45 407.51L251.3 406.81L252.15 406.11L253 405.4L253.85 404.69L254.7 403.99L255.55 403.28L256.39 402.59L257.24 401.9L258.09 401.23L258.94 400.57L259.79 399.94L260.64 399.33L261.49 398.76L262.34 398.22L263.19 397.72L264.04 397.27L264.89 396.87L265.74 396.52L266.58 396.23L267.43 396L268.28 395.83L269.13 395.74L269.98 395.72L270.83 395.77L271.68 395.88L272.53 396.05L273.38 396.28L274.23 396.56L275.08 396.88L275.92 397.23L276.77 397.63L277.62 398.05L278.47 398.5L279.32 398.96L280.17 399.44L281.02 399.93L281.87 400.43L282.72 400.94L283.57 401.45L284.42 401.96L285.26 402.47L286.11 402.98L286.96 403.48L287.81 403.98L288.66 404.46L289.51 404.94L290.36 405.4L291.21 405.85L292.06 406.28L292.91 406.69L293.76 407.08L294.61 407.45L295.45 407.79L296.3 408.12L297.15 408.41L298 408.68L298.85 408.92L299.7 409.14L300.55 409.32L301.4 409.47L302.25 409.59L303.1 409.68L303.95 409.73L304.79 409.75L305.64 409.73L306.49 409.67L307.34 409.58L308.19 409.46L309.04 409.31L309.89 409.12L310.74 408.9L311.59 408.66L312.44 408.39L313.29 408.1L314.14 407.78L314.98 407.44L315.83 407.08L316.68 406.69L317.53 406.3L318.38 405.89L319.23 405.46L320.08 405.03L320.93 404.6L321.78 404.15L322.63 403.71L323.48 403.27L324.32 402.83L325.17 402.4L326.02 401.98L326.87 401.57L327.72 401.17L328.57 400.79L329.42 400.43L330.27 400.08L331.12 399.75L331.97 399.44L332.82 399.15L333.66 398.88L334.51 398.64L335.36 398.43L336.21 398.24L337.06 398.08L337.91 397.95L338.76 397.85L339.61 397.78L340.46 397.75L341.31 397.75L342.16 397.79L343.01 397.86L343.85 397.96L344.7 398.09L345.55 398.24L346.4 398.41L347.25 398.6L348.1 398.8L348.95 399.02L349.8 399.24L350.65 399.47L351.5 399.7L352.35 399.94L353.19 400.18L354.04 400.42L354.89 400.67L355.74 400.91L356.59 401.15L357.44 401.39L358.29 401.63L359.14 401.87L359.99 402.1L360.84 402.33L361.69 402.55L362.54 402.76L363.38 402.97L364.23 403.17L365.08 403.36L365.93 403.54L366.78 403.71L367.63 403.87L368.48 404.02L369.33 404.16L370.18 404.28L371.03 404.4L371.88 404.49L372.72 404.58L373.57 404.64L374.42 404.7L375.27 404.73L376.12 404.75L376.97 404.75L377.82 404.73L378.67 404.7L379.52 404.64L380.37 404.58L381.22 404.49L382.06 404.39L382.91 404.28L383.76 404.15L384.61 404.01L385.46 403.86L386.31 403.69L387.16 403.51L388.01 403.31L388.86 403.11L389.71 402.9L390.56 402.68L391.41 402.45L392.25 402.22L393.1 401.98L393.95 401.74L394.8 401.5L395.65 401.25L396.5 401" stroke="#2a2a2a" stroke-width="0.95" stroke-dasharray="1.4 2.7"/>
<path d="M57.7 403L58.46 403.01L59.22 403.02L59.98 403.02L60.75 403.01L61.51 402.98L62.27 402.94L63.03 402.88L63.79 402.79L64.55 402.67L65.31 402.53L66.08 402.35L66.84 402.14L67.6 401.91L68.36 401.65L69.12 401.38L69.88 401.08L70.64 400.77L71.41 400.47L72.17 400.19L72.93 399.97L73.69 399.81L74.45 399.75L75.21 399.8L75.97 399.96L76.74 400.22L77.5 400.59L78.26 401.05L79.02 401.61L79.78 402.25L80.54 402.98L81.3 403.78L82.06 404.66L82.83 405.6L83.59 406.58L84.35 407.6L85.11 408.63L85.87 409.65L86.63 410.66L87.39 411.64L88.16 412.57L88.92 413.45L89.68 414.27L90.44 415.03L91.2 415.74L91.96 416.39L92.72 416.98L93.49 417.52L94.25 417.99L95.01 418.39L95.77 418.73L96.53 418.98L97.29 419.16L98.05 419.24L98.82 419.24L99.58 419.14L100.34 418.96L101.1 418.71L101.86 418.38L102.62 417.98L103.38 417.52L104.15 417.01L104.91 416.44L105.67 415.83L106.43 415.17L107.19 414.45L107.95 413.66L108.71 412.81L109.48 411.88L110.24 410.86L111 409.76L111.76 408.58L112.52 407.33L113.28 406.05L114.04 404.76L114.81 403.47L115.57 402.21L116.33 401.01L117.09 399.88L117.85 398.83L118.61 397.85L119.37 396.94L120.14 396.09L120.9 395.29L121.66 394.55L122.42 393.86L123.18 393.21L123.94 392.61L124.7 392.06L125.46 391.55L126.23 391.09L126.99 390.67L127.75 390.31L128.51 389.99L129.27 389.72L130.03 389.52L130.79 389.4L131.56 389.38L132.32 389.45L133.08 389.61L133.84 389.87L134.6 390.2L135.36 390.6L136.12 391.07L136.89 391.6L137.65 392.19L138.41 392.83L139.17 393.51L139.93 394.22L140.69 394.96L141.45 395.73L142.22 396.52L142.98 397.32L143.74 398.12L144.5 398.93L145.26 399.74L146.02 400.54L146.78 401.32L147.55 402.09L148.31 402.84L149.07 403.56L149.83 404.25L150.59 404.92L151.35 405.56L152.11 406.16L152.88 406.72L153.64 407.25L154.4 407.74L155.16 408.18L155.92 408.58L156.68 408.94L157.44 409.25L158.21 409.51L158.97 409.73L159.73 409.9L160.49 410.01L161.25 410.08L162.01 410.09L162.77 410.05L163.54 409.95L164.3 409.78L165.06 409.56L165.82 409.26L166.58 408.89L167.34 408.45L168.1 407.93L168.86 407.34L169.63 406.68L170.39 405.96L171.15 405.2L171.91 404.4L172.67 403.57L173.43 402.71L174.19 401.85L174.96 400.99L175.72 400.12L176.48 399.26L177.24 398.39L178 397.51L178.76 396.61L179.52 395.69L180.29 394.74L181.05 393.75L181.81 392.74L182.57 391.7L183.33 390.66L184.09 389.62L184.85 388.59L185.62 387.6L186.38 386.65L187.14 385.75L187.9 384.9L188.66 384.11L189.42 383.36L190.18 382.66L190.95 382.01L191.71 381.4L192.47 380.84L193.23 380.31L193.99 379.82L194.75 379.37L195.51 378.95L196.28 378.57L197.04 378.22L197.8 377.9L198.56 377.6L199.32 377.33L200.08 377.09L200.84 376.87L201.61 376.68L202.37 376.5L203.13 376.35L203.89 376.22L204.65 376.1L205.41 376.01L206.17 375.93L206.94 375.87L207.7 375.82L208.46 375.78L209.22 375.76L209.98 375.75L210.74 375.75L211.5 375.75L212.26 375.76L213.03 375.78L213.79 375.79L214.55 375.81L215.31 375.82L216.07 375.83L216.83 375.82L217.59 375.81L218.36 375.78L219.12 375.74L219.88 375.69L220.64 375.61L221.4 375.51L222.16 375.39L222.92 375.25L223.69 375.08L224.45 374.88L225.21 374.66L225.97 374.4L226.73 374.12L227.49 373.81L228.25 373.47L229.02 373.1L229.78 372.7L230.54 372.26L231.3 371.8L232.06 371.29L232.82 370.75L233.58 370.18L234.35 369.57L235.11 368.93L235.87 368.26L236.63 367.57L237.39 366.85L238.15 366.12L238.91 365.36L239.68 364.59L240.44 363.81L241.2 363.03L241.96 362.24L242.72 361.44L243.48 360.65L244.24 359.86L245.01 359.07L245.77 358.3L246.53 357.53L247.29 356.78L248.05 356.03L248.81 355.3L249.57 354.57L250.34 353.86L251.1 353.16L251.86 352.47L252.62 351.8L253.38 351.14L254.14 350.49L254.9 349.86L255.66 349.24L256.43 348.63L257.19 348.04L257.95 347.47L258.71 346.91L259.47 346.36L260.23 345.82L260.99 345.29L261.76 344.77L262.52 344.26L263.28 343.76L264.04 343.26L264.8 342.76L265.56 342.27L266.32 341.78L267.09 341.29L267.85 340.8L268.61 340.32L269.37 339.83L270.13 339.33L270.89 338.84L271.65 338.35L272.42 337.86L273.18 337.36L273.94 336.87L274.7 336.38L275.46 335.89L276.22 335.4L276.98 334.91L277.75 334.42L278.51 333.94L279.27 333.46L280.03 332.98L280.79 332.5L281.55 332.02L282.31 331.55L283.08 331.08L283.84 330.6L284.6 330.12L285.36 329.65L286.12 329.17L286.88 328.68L287.64 328.19L288.41 327.7L289.17 327.2L289.93 326.69L290.69 326.18L291.45 325.66L292.21 325.13L292.97 324.59L293.74 324.04L294.5 323.49L295.26 322.93L296.02 322.37L296.78 321.79L297.54 321.22L298.3 320.64L299.06 320.06L299.83 319.48L300.59 318.89L301.35 318.3L302.11 317.71L302.87 317.13L303.63 316.54L304.39 315.96L305.16 315.37L305.92 314.79L306.68 314.21L307.44 313.64L308.2 313.06L308.96 312.49L309.72 311.93L310.49 311.36L311.25 310.81L312.01 310.25L312.77 309.71L313.53 309.16L314.29 308.63L315.05 308.1L315.82 307.57L316.58 307.05L317.34 306.54L318.1 306.03L318.86 305.52L319.62 305.01L320.38 304.5L321.15 303.98L321.91 303.47L322.67 302.95L323.43 302.43L324.19 301.9L324.95 301.36L325.71 300.82L326.48 300.27L327.24 299.71L328 299.13L328.76 298.55L329.52 297.96L330.28 297.36L331.04 296.76L331.81 296.15L332.57 295.53L333.33 294.91L334.09 294.28L334.85 293.65L335.61 293.02L336.37 292.38L337.14 291.74L337.9 291.1L338.66 290.46L339.42 289.82L340.18 289.17L340.94 288.52L341.7 287.87L342.46 287.21L343.23 286.54L343.99 285.86L344.75 285.18L345.51 284.48L346.27 283.77L347.03 283.05L347.79 282.31L348.56 281.55L349.32 280.78L350.08 279.99L350.84 279.19L351.6 278.36L352.36 277.52L353.12 276.67L353.89 275.8L354.65 274.93L355.41 274.04L356.17 273.15L356.93 272.25L357.69 271.34L358.45 270.43L359.22 269.51L359.98 268.59L360.74 267.67L361.5 266.75" stroke="#0c4ef0" stroke-width="2.05"/>
<path d="M61.38 400.82V428.83M59.67 400.82H63.08M59.67 428.83H63.08M67.21 384.15V416.15M65.51 384.15H68.91M65.51 416.15H68.91M73.04 393.25V405.25M71.34 393.25H74.74M71.34 405.25H74.74M78.88 392.33V400.33M77.17 392.33H80.58M77.17 400.33H80.58M84.71 395.35V406.85M83.01 395.35H86.41M83.01 406.85H86.41M90.54 413.5V418.5M88.84 413.5H92.24M88.84 418.5H92.24M96.38 407.62V421.38M94.67 407.62H98.08M94.67 421.38H98.08M102.21 415.5V423M100.51 415.5H103.91M100.51 423H103.91M108.04 410.25V416.75M106.34 410.25H109.74M106.34 416.75H109.74M113.88 404.38V410.38M112.17 404.38H115.58M112.17 410.38H115.58M119.71 394.4V399.4M118.01 394.4H121.41M118.01 399.4H121.41M125.54 387.75V394.25M123.84 387.75H127.24M123.84 394.25H127.24M131.38 385.65V393.65M129.68 385.65H133.07M129.68 393.65H133.07M137.21 390.62V396.38M135.51 390.62H138.91M135.51 396.38H138.91M143.04 397.85V401.65M141.34 397.85H144.74M141.34 401.65H144.74M148.88 406.25V408.25M147.18 406.25H150.57M147.18 408.25H150.57M154.71 411.88V415.88M153.01 411.88H156.41M153.01 415.88H156.41M160.54 414.38V417.62M158.84 414.38H162.24M158.84 417.62H162.24M166.38 412.88V414.88M164.68 412.88H168.07M164.68 414.88H168.07M172.21 408.75V410.75M170.51 408.75H173.91M170.51 410.75H173.91M178.04 403.5V405.5M176.34 403.5H179.74M176.34 405.5H179.74M183.88 396.9V400.7M182.18 396.9H185.57M182.18 400.7H185.57M189.71 390.12V392.98M188.01 390.12H191.41M188.01 392.98H191.41M195.54 386.75V388.75M193.84 386.75H197.24M193.84 388.75H197.24M201.38 386.5V388.5M199.68 386.5H203.08M199.68 388.5H203.08M207.21 385.75V387.75M205.51 385.75H208.91M205.51 387.75H208.91M213.04 387.25V389.25M211.34 387.25H214.74M211.34 389.25H214.74M218.88 390.25V392.25M217.18 390.25H220.58M217.18 392.25H220.58M224.71 389.5V391.5M223.01 389.5H226.41M223.01 391.5H226.41M230.54 387.25V389.25M228.84 387.25H232.24M228.84 389.25H232.24M236.38 386.25V388.25M234.68 386.25H238.08M234.68 388.25H238.08M242.21 382.5V384.5M240.51 382.5H243.91M240.51 384.5H243.91M248.04 378.75V380.75M246.34 378.75H249.74M246.34 380.75H249.74M253.88 374.5V376.5M252.18 374.5H255.58M252.18 376.5H255.58M259.71 370.75V372.75M258.01 370.75H261.41M258.01 372.75H261.41M265.54 365.75V367.75M263.84 365.75H267.24M263.84 367.75H267.24M271.38 363.75V365.75M269.68 363.75H273.07M269.68 365.75H273.07M277.21 362V364M275.51 362H278.91M275.51 364H278.91M283.04 358.75V360.75M281.34 358.75H284.74M281.34 360.75H284.74M288.88 356.5V358.5M287.18 356.5H290.57M287.18 358.5H290.57M294.71 354.5V356.5M293.01 354.5H296.41M293.01 356.5H296.41M300.54 353.25V355.25M298.84 353.25H302.24M298.84 355.25H302.24M306.38 350V352M304.68 350H308.07M304.68 352H308.07M312.21 345.83V347.83M310.51 345.83H313.91M310.51 347.83H313.91M318.04 342.57V344.57M316.34 342.57H319.74M316.34 344.57H319.74M323.88 337.1V339.1M322.18 337.1H325.58M322.18 339.1H325.58M329.71 334.1V336.1M328.01 334.1H331.41M328.01 336.1H331.41M335.54 330.88V332.88M333.84 330.88H337.24M333.84 332.88H337.24M341.38 327.62V329.62M339.68 327.62H343.07M339.68 329.62H343.07M347.21 323.38V325.38M345.51 323.38H348.91M345.51 325.38H348.91M353.04 320.4V322.4M351.34 320.4H354.74M351.34 322.4H354.74M358.88 317.15V319.15M357.18 317.15H360.57M357.18 319.15H360.57M364.71 312.25V314.25M363.01 312.25H366.41M363.01 314.25H366.41M370.54 309V311M368.84 309H372.24M368.84 311H372.24M376.38 305.5V307.5M374.68 305.5H378.07M374.68 307.5H378.07M382.21 302.25V304.25M380.51 302.25H383.91M380.51 304.25H383.91M388.04 297.75V299.75M386.34 297.75H389.74M386.34 299.75H389.74M393.88 294V296M392.18 294H395.58M392.18 296H395.58" stroke="#555" stroke-width="0.9"/>
<g fill="#000"><circle cx="61.38" cy="414.82" r="1.6"/><circle cx="67.21" cy="400.15" r="1.6"/><circle cx="73.04" cy="399.25" r="1.6"/><circle cx="78.88" cy="396.33" r="1.6"/><circle cx="84.71" cy="401.1" r="1.6"/><circle cx="90.54" cy="416" r="1.6"/><circle cx="96.38" cy="414.5" r="1.6"/><circle cx="102.21" cy="419.25" r="1.6"/><circle cx="108.04" cy="413.5" r="1.6"/><circle cx="113.88" cy="407.38" r="1.6"/><circle cx="119.71" cy="396.9" r="1.6"/><circle cx="125.54" cy="391" r="1.6"/><circle cx="131.38" cy="389.65" r="1.6"/><circle cx="137.21" cy="393.5" r="1.6"/><circle cx="143.04" cy="399.75" r="1.6"/><circle cx="148.88" cy="407.25" r="1.6"/><circle cx="154.71" cy="413.88" r="1.6"/><circle cx="160.54" cy="416" r="1.6"/><circle cx="166.38" cy="413.88" r="1.6"/><circle cx="172.21" cy="409.75" r="1.6"/><circle cx="178.04" cy="404.5" r="1.6"/><circle cx="183.88" cy="398.8" r="1.6"/><circle cx="189.71" cy="391.55" r="1.6"/><circle cx="195.54" cy="387.75" r="1.6"/><circle cx="201.38" cy="387.5" r="1.6"/><circle cx="207.21" cy="386.75" r="1.6"/><circle cx="213.04" cy="388.25" r="1.6"/><circle cx="218.88" cy="391.25" r="1.6"/><circle cx="224.71" cy="390.5" r="1.6"/><circle cx="230.54" cy="388.25" r="1.6"/><circle cx="236.38" cy="387.25" r="1.6"/><circle cx="242.21" cy="383.5" r="1.6"/><circle cx="248.04" cy="379.75" r="1.6"/><circle cx="253.88" cy="375.5" r="1.6"/><circle cx="259.71" cy="371.75" r="1.6"/><circle cx="265.54" cy="366.75" r="1.6"/><circle cx="271.38" cy="364.75" r="1.6"/><circle cx="277.21" cy="363" r="1.6"/><circle cx="283.04" cy="359.75" r="1.6"/><circle cx="288.88" cy="357.5" r="1.6"/><circle cx="294.71" cy="355.5" r="1.6"/><circle cx="300.54" cy="354.25" r="1.6"/><circle cx="306.38" cy="351" r="1.6"/><circle cx="312.21" cy="346.83" r="1.6"/><circle cx="318.04" cy="343.57" r="1.6"/><circle cx="323.88" cy="338.1" r="1.6"/><circle cx="329.71" cy="335.1" r="1.6"/><circle cx="335.54" cy="331.88" r="1.6"/><circle cx="341.38" cy="328.62" r="1.6"/><circle cx="347.21" cy="324.38" r="1.6"/><circle cx="353.04" cy="321.4" r="1.6"/><circle cx="358.88" cy="318.15" r="1.6"/><circle cx="364.71" cy="313.25" r="1.6"/><circle cx="370.54" cy="310" r="1.6"/><circle cx="376.38" cy="306.5" r="1.6"/><circle cx="382.21" cy="303.25" r="1.6"/><circle cx="388.04" cy="298.75" r="1.6"/><circle cx="393.88" cy="295" r="1.6"/></g>
<path d="M57.7 403.57L58.55 403.6L59.4 403.61L60.25 403.62L61.1 403.62L61.95 403.6L62.79 403.56L63.64 403.5L64.49 403.42L65.34 403.3L66.19 403.15L67.04 402.97L67.89 402.77L68.74 402.54L69.59 402.3L70.44 402.03L71.29 401.75L72.14 401.49L72.98 401.26L73.83 401.12L74.68 401.08L75.53 401.19L76.38 401.44L77.23 401.83L78.08 402.37L78.93 403.04L79.78 403.84L80.63 404.77L81.48 405.82L82.32 406.98L83.17 408.23L84.02 409.55L84.87 410.92L85.72 412.29L86.57 413.66L87.42 415L88.27 416.27L89.12 417.48L89.97 418.6L90.82 419.65L91.66 420.61L92.51 421.47L93.36 422.24L94.21 422.91L95.06 423.48L95.91 423.96L96.76 424.34L97.61 424.62L98.46 424.81L99.31 424.91L100.16 424.92L101.01 424.84L101.85 424.68L102.7 424.44L103.55 424.12L104.4 423.73L105.25 423.26L106.1 422.72L106.95 422.12L107.8 421.45L108.65 420.72L109.5 419.93L110.35 419.08L111.19 418.18L112.04 417.24L112.89 416.27L113.74 415.29L114.59 414.32L115.44 413.37L116.29 412.47L117.14 411.62L117.99 410.82L118.84 410.09L119.69 409.4L120.54 408.75L121.38 408.15L122.23 407.59L123.08 407.06L123.93 406.57L124.78 406.13L125.63 405.75L126.48 405.43L127.33 405.17L128.18 405L129.03 404.9L129.88 404.89L130.72 404.97L131.57 405.15L132.42 405.41L133.27 405.78L134.12 406.24L134.97 406.8L135.82 407.46L136.67 408.19L137.52 409.01L138.37 409.89L139.22 410.85L140.06 411.86L140.91 412.92L141.76 414.03L142.61 415.17L143.46 416.34L144.31 417.54L145.16 418.74L146.01 419.95L146.86 421.16L147.71 422.36L148.56 423.54L149.41 424.69L150.25 425.81L151.1 426.9L151.95 427.94L152.8 428.93L153.65 429.86L154.5 430.73L155.35 431.53L156.2 432.26L157.05 432.92L157.9 433.52L158.75 434.05L159.59 434.51L160.44 434.92L161.29 435.26L162.14 435.54L162.99 435.76L163.84 435.92L164.69 435.99L165.54 435.99L166.39 435.9L167.24 435.73L168.09 435.48L168.94 435.16L169.78 434.79L170.63 434.36L171.48 433.87L172.33 433.35L173.18 432.78L174.03 432.19L174.88 431.57L175.73 430.93L176.58 430.27L177.43 429.6L178.28 428.93L179.12 428.26L179.97 427.59L180.82 426.92L181.67 426.27L182.52 425.63L183.37 425.02L184.22 424.43L185.07 423.87L185.92 423.34L186.77 422.85L187.62 422.4L188.46 422L189.31 421.63L190.16 421.31L191.01 421.03L191.86 420.78L192.71 420.58L193.56 420.42L194.41 420.3L195.26 420.22L196.11 420.18L196.96 420.18L197.81 420.22L198.65 420.3L199.5 420.42L200.35 420.58L201.2 420.77L202.05 420.99L202.9 421.25L203.75 421.54L204.6 421.86L205.45 422.2L206.3 422.58L207.15 422.97L207.99 423.39L208.84 423.84L209.69 424.3L210.54 424.78L211.39 425.27L212.24 425.78L213.09 426.29L213.94 426.81L214.79 427.33L215.64 427.85L216.49 428.36L217.34 428.87L218.18 429.36L219.03 429.84L219.88 430.29L220.73 430.73L221.58 431.14L222.43 431.52L223.28 431.87L224.13 432.19L224.98 432.48L225.83 432.74L226.68 432.96L227.52 433.16L228.37 433.32L229.22 433.45L230.07 433.54L230.92 433.61L231.77 433.63L232.62 433.62L233.47 433.58L234.32 433.5L235.17 433.39L236.02 433.25L236.86 433.08L237.71 432.88L238.56 432.66L239.41 432.41L240.26 432.15L241.11 431.87L241.96 431.58L242.81 431.27L243.66 430.95L244.51 430.63L245.36 430.3L246.21 429.96L247.05 429.62L247.9 429.28L248.75 428.94L249.6 428.6L250.45 428.27L251.3 427.94L252.15 427.62L253 427.3L253.85 427L254.7 426.71L255.55 426.42L256.39 426.16L257.24 425.91L258.09 425.67L258.94 425.45L259.79 425.25L260.64 425.06L261.49 424.89L262.34 424.73L263.19 424.59L264.04 424.47L264.89 424.37L265.74 424.28L266.58 424.21L267.43 424.16L268.28 424.12L269.13 424.1L269.98 424.1L270.83 424.11L271.68 424.14L272.53 424.18L273.38 424.23L274.23 424.29L275.08 424.36L275.92 424.44L276.77 424.53L277.62 424.62L278.47 424.71L279.32 424.81L280.17 424.92L281.02 425.02L281.87 425.12L282.72 425.23L283.57 425.33L284.42 425.43L285.26 425.53L286.11 425.62L286.96 425.71L287.81 425.79L288.66 425.87L289.51 425.93L290.36 425.99L291.21 426.04L292.06 426.08L292.91 426.11L293.76 426.13L294.61 426.13L295.45 426.12L296.3 426.09L297.15 426.05L298 426L298.85 425.94L299.7 425.87L300.55 425.78L301.4 425.69L302.25 425.59L303.1 425.48L303.95 425.37L304.79 425.25L305.64 425.12L306.49 424.99L307.34 424.85L308.19 424.71L309.04 424.57L309.89 424.43L310.74 424.29L311.59 424.15L312.44 424.01L313.29 423.87L314.14 423.73L314.98 423.6L315.83 423.47L316.68 423.35L317.53 423.23L318.38 423.11L319.23 423L320.08 422.89L320.93 422.78L321.78 422.68L322.63 422.58L323.48 422.48L324.32 422.38L325.17 422.29L326.02 422.2L326.87 422.11L327.72 422.03L328.57 421.95L329.42 421.87L330.27 421.79L331.12 421.71L331.97 421.64L332.82 421.56L333.66 421.49L334.51 421.42L335.36 421.35L336.21 421.28L337.06 421.21L337.91 421.15L338.76 421.08L339.61 421.01L340.46 420.95L341.31 420.88L342.16 420.82L343.01 420.76L343.85 420.69L344.7 420.63L345.55 420.57L346.4 420.5L347.25 420.44L348.1 420.38L348.95 420.32L349.8 420.25L350.65 420.19L351.5 420.13L352.35 420.07L353.19 420.01L354.04 419.94L354.89 419.88L355.74 419.82L356.59 419.75L357.44 419.69L358.29 419.63L359.14 419.56L359.99 419.5L360.84 419.43L361.69 419.36L362.54 419.3L363.38 419.23L364.23 419.16L365.08 419.09L365.93 419.02L366.78 418.95L367.63 418.88L368.48 418.8L369.33 418.73L370.18 418.66L371.03 418.58L371.88 418.51L372.72 418.43L373.57 418.35L374.42 418.28L375.27 418.2L376.12 418.12L376.97 418.04L377.82 417.96L378.67 417.88L379.52 417.8L380.37 417.72L381.22 417.64L382.06 417.56L382.91 417.47L383.76 417.39L384.61 417.31L385.46 417.22L386.31 417.14L387.16 417.06L388.01 416.97L388.86 416.89L389.71 416.8L390.56 416.72L391.41 416.64L392.25 416.55L393.1 416.47L393.95 416.38L394.8 416.3L395.65 416.21L396.5 416.13" stroke="#ae00ae" stroke-width="2.1" stroke-dasharray="5.4 1.3 2.5 1.3"/>
<path d="M57.7 403.57L58.55 403.61L59.4 403.64L60.25 403.66L61.1 403.66L61.95 403.64L62.79 403.6L63.64 403.53L64.49 403.43L65.34 403.28L66.19 403.1L67.04 402.88L67.89 402.63L68.74 402.37L69.59 402.08L70.44 401.78L71.29 401.48L72.14 401.2L72.98 400.96L73.83 400.8L74.68 400.74L75.53 400.81L76.38 401.02L77.23 401.37L78.08 401.84L78.93 402.44L79.78 403.17L80.63 404.01L81.48 404.97L82.32 406.04L83.17 407.2L84.02 408.42L84.87 409.69L85.72 410.97L86.57 412.25L87.42 413.5L88.27 414.69L89.12 415.82L89.97 416.88L90.82 417.87L91.66 418.77L92.51 419.59L93.36 420.31L94.21 420.93L95.06 421.46L95.91 421.89L96.76 422.23L97.61 422.46L98.46 422.61L99.31 422.65L100.16 422.6L101.01 422.46L101.85 422.23L102.7 421.91L103.55 421.51L104.4 421.03L105.25 420.46L106.1 419.83L106.95 419.11L107.8 418.31L108.65 417.43L109.5 416.47L110.35 415.42L111.19 414.29L112.04 413.08L112.89 411.82L113.74 410.54L114.59 409.26L115.44 408L116.29 406.79L117.14 405.65L117.99 404.57L118.84 403.58L119.69 402.65L120.54 401.8L121.38 401.01L122.23 400.3L123.08 399.65L123.93 399.07L124.78 398.54L125.63 398.08L126.48 397.67L127.33 397.31L128.18 397L129.03 396.73L129.88 396.53L130.72 396.4L131.57 396.38L132.42 396.46L133.27 396.65L134.12 396.93L134.97 397.3L135.82 397.76L136.67 398.28L137.52 398.88L138.37 399.54L139.22 400.25L140.06 401.01L140.91 401.81L141.76 402.64L142.61 403.5L143.46 404.39L144.31 405.28L145.16 406.2L146.01 407.11L146.86 408.03L147.71 408.94L148.56 409.83L149.41 410.72L150.25 411.58L151.1 412.42L151.95 413.24L152.8 414.02L153.65 414.76L154.5 415.47L155.35 416.13L156.2 416.74L157.05 417.29L157.9 417.78L158.75 418.21L159.59 418.56L160.44 418.84L161.29 419.03L162.14 419.14L162.99 419.15L163.84 419.07L164.69 418.9L165.54 418.64L166.39 418.3L167.24 417.86L168.09 417.34L168.94 416.74L169.78 416.05L170.63 415.29L171.48 414.45L172.33 413.54L173.18 412.59L174.03 411.6L174.88 410.57L175.73 409.52L176.58 408.45L177.43 407.37L178.28 406.28L179.12 405.19L179.97 404.1L180.82 403.02L181.67 401.95L182.52 400.9L183.37 399.87L184.22 398.86L185.07 397.88L185.92 396.95L186.77 396.05L187.62 395.19L188.46 394.38L189.31 393.62L190.16 392.9L191.01 392.22L191.86 391.59L192.71 391L193.56 390.45L194.41 389.95L195.26 389.49L196.11 389.08L196.96 388.7L197.81 388.38L198.65 388.09L199.5 387.85L200.35 387.66L201.2 387.51L202.05 387.42L202.9 387.38L203.75 387.39L204.6 387.46L205.45 387.58L206.3 387.76L207.15 387.97L207.99 388.21L208.84 388.46L209.69 388.71L210.54 388.95L211.39 389.16L212.24 389.37L213.09 389.55L213.94 389.72L214.79 389.87L215.64 390.01L216.49 390.13L217.34 390.23L218.18 390.32L219.03 390.39L219.88 390.44L220.73 390.48L221.58 390.5L222.43 390.51L223.28 390.49L224.13 390.46L224.98 390.4L225.83 390.31L226.68 390.19L227.52 390.04L228.37 389.85L229.22 389.63L230.07 389.36L230.92 389.05L231.77 388.7L232.62 388.29L233.47 387.83L234.32 387.32L235.17 386.76L236.02 386.15L236.86 385.5L237.71 384.82L238.56 384.09L239.41 383.34L240.26 382.56L241.11 381.75L241.96 380.92L242.81 380.07L243.66 379.21L244.51 378.34L245.36 377.46L246.21 376.57L247.05 375.69L247.9 374.8L248.75 373.91L249.6 373.03L250.45 372.15L251.3 371.28L252.15 370.42L253 369.58L253.85 368.74L254.7 367.92L255.55 367.12L256.39 366.35L257.24 365.59L258.09 364.85L258.94 364.14L259.79 363.45L260.64 362.79L261.49 362.15L262.34 361.54L263.19 360.94L264.04 360.38L264.89 359.84L265.74 359.33L266.58 358.84L267.43 358.38L268.28 357.94L269.13 357.53L269.98 357.15L270.83 356.79L271.68 356.45L272.53 356.13L273.38 355.82L274.23 355.53L275.08 355.26L275.92 354.99L276.77 354.73L277.62 354.47L278.47 354.22L279.32 353.97L280.17 353.73L281.02 353.48L281.87 353.22L282.72 352.96L283.57 352.7L284.42 352.43L285.26 352.16L286.11 351.88L286.96 351.58L287.81 351.28L288.66 350.97L289.51 350.64L290.36 350.3L291.21 349.95L292.06 349.58L292.91 349.2L293.76 348.8L294.61 348.38L295.45 347.94L296.3 347.49L297.15 347.02L298 346.53L298.85 346.02L299.7 345.49L300.55 344.94L301.4 344.36L302.25 343.77L303.1 343.15L303.95 342.51L304.79 341.85L305.64 341.17L306.49 340.47L307.34 339.76L308.19 339.03L309.04 338.29L309.89 337.55L310.74 336.79L311.59 336.03L312.44 335.26L313.29 334.5L314.14 333.73L314.98 332.96L315.83 332.2L316.68 331.45L317.53 330.69L318.38 329.94L319.23 329.2L320.08 328.46L320.93 327.73L321.78 327.01L322.63 326.29L323.48 325.58L324.32 324.88L325.17 324.19L326.02 323.51L326.87 322.83L327.72 322.16L328.57 321.51L329.42 320.86L330.27 320.21L331.12 319.57L331.97 318.94L332.82 318.31L333.66 317.69L334.51 317.07L335.36 316.45L336.21 315.83L337.06 315.21L337.91 314.59L338.76 313.97L339.61 313.34L340.46 312.72L341.31 312.09L342.16 311.47L343.01 310.84L343.85 310.21L344.7 309.58L345.55 308.95L346.4 308.31L347.25 307.68L348.1 307.05L348.95 306.41L349.8 305.78L350.65 305.14L351.5 304.5L352.35 303.87L353.19 303.23L354.04 302.59L354.89 301.96L355.74 301.32L356.59 300.68L357.44 300.04L358.29 299.41L359.14 298.77L359.99 298.13L360.84 297.5L361.69 296.86L362.54 296.23L363.38 295.59L364.23 294.96L365.08 294.32L365.93 293.69L366.78 293.05L367.63 292.42L368.48 291.78L369.33 291.14L370.18 290.5L371.03 289.87L371.88 289.23L372.72 288.58L373.57 287.94L374.42 287.3L375.27 286.65L376.12 286.01L376.97 285.36L377.82 284.72L378.67 284.08L379.52 283.44L380.37 282.8L381.22 282.16L382.06 281.53L382.91 280.9L383.76 280.28L384.61 279.66L385.46 279.05L386.31 278.44L387.16 277.83L388.01 277.21L388.86 276.59L389.71 275.96L390.56 275.32L391.41 274.66L392.25 273.98L393.1 273.3L393.95 272.61L394.8 271.91L395.65 271.21L396.5 270.5" stroke="#d40000" stroke-width="2.1" stroke-dasharray="15.6 2.1"/>
</g>
<path d="M46.5 450.5v-4M46.5 275.5v4M58.5 450.5v-2.5M58.5 275.5v2.5M69.5 450.5v-2.5M69.5 275.5v2.5M81.5 450.5v-2.5M81.5 275.5v2.5M93.5 450.5v-2.5M93.5 275.5v2.5M104.5 450.5v-4M104.5 275.5v4M116.5 450.5v-2.5M116.5 275.5v2.5M128.5 450.5v-2.5M128.5 275.5v2.5M139.5 450.5v-2.5M139.5 275.5v2.5M151.5 450.5v-2.5M151.5 275.5v2.5M163.5 450.5v-4M163.5 275.5v4M174.5 450.5v-2.5M174.5 275.5v2.5M186.5 450.5v-2.5M186.5 275.5v2.5M198.5 450.5v-2.5M198.5 275.5v2.5M209.5 450.5v-2.5M209.5 275.5v2.5M221.5 450.5v-4M221.5 275.5v4M233.5 450.5v-2.5M233.5 275.5v2.5M244.5 450.5v-2.5M244.5 275.5v2.5M256.5 450.5v-2.5M256.5 275.5v2.5M268.5 450.5v-2.5M268.5 275.5v2.5M279.5 450.5v-4M279.5 275.5v4M291.5 450.5v-2.5M291.5 275.5v2.5M303.5 450.5v-2.5M303.5 275.5v2.5M314.5 450.5v-2.5M314.5 275.5v2.5M326.5 450.5v-2.5M326.5 275.5v2.5M338.5 450.5v-4M338.5 275.5v4M349.5 450.5v-2.5M349.5 275.5v2.5M361.5 450.5v-2.5M361.5 275.5v2.5M373.5 450.5v-2.5M373.5 275.5v2.5M384.5 450.5v-2.5M384.5 275.5v2.5M396.5 450.5v-4M396.5 275.5v4" stroke="#b4b4b4" stroke-width="1" fill="none"/>
<path d="M46.5 450.5h4M396.5 450.5h-4M46.5 445.5h2.5M396.5 445.5h-2.5M46.5 440.5h2.5M396.5 440.5h-2.5M46.5 435.5h2.5M396.5 435.5h-2.5M46.5 430.5h2.5M396.5 430.5h-2.5M46.5 425.5h4M396.5 425.5h-4M46.5 420.5h2.5M396.5 420.5h-2.5M46.5 415.5h2.5M396.5 415.5h-2.5M46.5 410.5h2.5M396.5 410.5h-2.5M46.5 405.5h2.5M396.5 405.5h-2.5M46.5 400.5h4M396.5 400.5h-4M46.5 395.5h2.5M396.5 395.5h-2.5M46.5 390.5h2.5M396.5 390.5h-2.5M46.5 385.5h2.5M396.5 385.5h-2.5M46.5 380.5h2.5M396.5 380.5h-2.5M46.5 375.5h4M396.5 375.5h-4M46.5 370.5h2.5M396.5 370.5h-2.5M46.5 365.5h2.5M396.5 365.5h-2.5M46.5 360.5h2.5M396.5 360.5h-2.5M46.5 355.5h2.5M396.5 355.5h-2.5M46.5 350.5h4M396.5 350.5h-4M46.5 345.5h2.5M396.5 345.5h-2.5M46.5 340.5h2.5M396.5 340.5h-2.5M46.5 335.5h2.5M396.5 335.5h-2.5M46.5 330.5h2.5M396.5 330.5h-2.5M46.5 325.5h4M396.5 325.5h-4M46.5 320.5h2.5M396.5 320.5h-2.5M46.5 315.5h2.5M396.5 315.5h-2.5M46.5 310.5h2.5M396.5 310.5h-2.5M46.5 305.5h2.5M396.5 305.5h-2.5M46.5 300.5h4M396.5 300.5h-4M46.5 295.5h2.5M396.5 295.5h-2.5M46.5 290.5h2.5M396.5 290.5h-2.5M46.5 285.5h2.5M396.5 285.5h-2.5M46.5 280.5h2.5M396.5 280.5h-2.5M46.5 275.5h4M396.5 275.5h-4" stroke="#c4c4c4" stroke-width="1" fill="none"/>
<path d="M46.5 275V451" stroke="#767676" stroke-width="1" fill="none"/>
<path d="M396.7 275V451" stroke="#9a9a9a" stroke-width="1" fill="none"/>
<path d="M46 275.5H397" stroke="#767676" stroke-width="1" fill="none"/>
<path d="M46 450.5H397" stroke="#747474" stroke-width="1" fill="none"/>
<g font-family="'Liberation Serif', serif" font-size="16.4" fill="#0a0a0a" stroke="#0a0a0a" stroke-width="0.2">
<text transform="translate(46.5 466) scale(0.955 1)" text-anchor="middle" font-size="17.1">0.00</text>
<text transform="translate(104.83 466) scale(0.955 1)" text-anchor="middle" font-size="17.1">0.05</text>
<text transform="translate(163.17 466) scale(0.955 1)" text-anchor="middle" font-size="17.1">0.10</text>
<text transform="translate(221.5 466) scale(0.955 1)" text-anchor="middle" font-size="17.1">0.15</text>
<text transform="translate(279.83 466) scale(0.955 1)" text-anchor="middle" font-size="17.1">0.20</text>
<text transform="translate(338.17 466) scale(0.955 1)" text-anchor="middle" font-size="17.1">0.25</text>
<text transform="translate(396.5 466) scale(0.955 1)" text-anchor="middle" font-size="17.1">0.30</text>
<text transform="translate(43.7 455.9) scale(0.945 1)" text-anchor="end" font-size="17.1">0.8</text>
<text transform="translate(43.7 430.9) scale(0.945 1)" text-anchor="end" font-size="17.1">0.9</text>
<text transform="translate(43.7 405.9) scale(0.945 1)" text-anchor="end" font-size="17.1">1.0</text>
<text transform="translate(43.7 380.9) scale(0.945 1)" text-anchor="end" font-size="17.1">1.1</text>
<text transform="translate(43.7 355.9) scale(0.945 1)" text-anchor="end" font-size="17.1">1.2</text>
<text transform="translate(43.7 330.9) scale(0.945 1)" text-anchor="end" font-size="17.1">1.3</text>
<text transform="translate(43.7 305.9) scale(0.945 1)" text-anchor="end" font-size="17.1">1.4</text>
<text transform="translate(43.7 280.9) scale(0.945 1)" text-anchor="end" font-size="17.1">1.5</text>
<text x="221.5" y="264.9" text-anchor="middle" font-size="17.1">z=1.0</text>
<text x="221.5" y="487.7" text-anchor="middle" font-size="17">k[h/Mpc]</text>
</g>
<g transform="translate(13 392) rotate(-90)" font-family="'Liberation Serif', serif" fill="#0a0a0a" stroke="#0a0a0a" stroke-width="0.2">
<text x="0" y="0" font-size="16" font-style="italic">P</text>
<text x="8.2" y="-6.4" font-size="12.3">ss</text>
<text transform="translate(9.4 4) scale(0.885 1)" font-size="13">01</text>
<text x="21.8" y="1.8" font-size="19">/</text>
<text x="28" y="0" font-size="16" font-style="italic">P</text>
<text x="37.9" y="2.7" font-size="12">NW</text>
</g>
</g>
<g id="panel4">
<g clip-path="url(#c4)" fill="none">
<path transform="translate(0 0)" d="M487.44 403.3L488.3 403.19L489.15 403.07L490 402.95L490.85 402.81L491.71 402.66L492.56 402.48L493.41 402.28L494.26 402.04L495.12 401.77L495.97 401.48L496.82 401.17L497.68 400.87L498.53 400.58L499.38 400.32L500.23 400.11L501.09 399.96L501.94 399.88L502.79 399.89L503.64 400.01L504.5 400.24L505.35 400.56L506.2 400.98L507.05 401.49L507.91 402.09L508.76 402.76L509.61 403.51L510.46 404.32L511.32 405.19L512.17 406.12L513.02 407.09L513.87 408.09L514.73 409.12L515.58 410.15L516.43 411.19L517.28 412.21L518.14 413.21L518.99 414.17L519.84 415.11L520.69 416.01L521.55 416.88L522.4 417.71L523.25 418.49L524.1 419.22L524.96 419.86L525.81 420.37L526.66 420.72L527.51 420.87L528.37 420.77L529.22 420.43L530.07 419.87L530.92 419.13L531.78 418.24L532.63 417.25L533.48 416.19L534.33 415.09L535.19 414L536.04 412.92L536.89 411.84L537.74 410.74L538.6 409.61L539.45 408.44L540.3 407.21L541.15 405.91L542.01 404.54L542.86 403.13L543.71 401.7L544.56 400.27L545.42 398.86L546.27 397.49L547.12 396.18L547.97 394.95L548.83 393.81L549.68 392.76L550.53 391.8L551.38 390.96L552.24 390.23L553.09 389.62L553.94 389.11L554.79 388.69L555.65 388.35L556.5 388.06L557.35 387.81L558.2 387.58L559.06 387.38L559.91 387.23L560.76 387.15L561.61 387.18L562.47 387.31L563.32 387.53L564.17 387.86L565.02 388.28L565.88 388.79L566.73 389.4L567.58 390.08L568.43 390.85L569.29 391.7L570.14 392.63L570.99 393.64L571.84 394.7L572.7 395.83L573.55 397L574.4 398.21L575.25 399.45L576.11 400.71L576.96 401.98L577.81 403.26L578.66 404.53L579.52 405.8L580.37 407.04L581.22 408.27L582.07 409.46L582.93 410.62L583.78 411.73L584.63 412.79L585.48 413.8L586.34 414.75L587.19 415.64L588.04 416.46L588.89 417.22L589.75 417.91L590.6 418.53L591.45 419.07L592.3 419.52L593.16 419.86L594.01 420.09L594.86 420.2L595.71 420.17L596.57 420L597.42 419.72L598.27 419.33L599.12 418.83L599.98 418.25L600.83 417.59L601.68 416.87L602.53 416.08L603.39 415.25L604.24 414.38L605.09 413.48L605.94 412.56L606.8 411.63L607.65 410.68L608.5 409.73L609.36 408.77L610.21 407.82L611.06 406.87L611.91 405.94L612.77 405.01L613.62 404.11L614.47 403.22L615.32 402.36L616.18 401.53L617.03 400.74L617.88 399.98L618.73 399.26L619.59 398.58L620.44 397.93L621.29 397.31L622.14 396.73L623 396.18L623.85 395.66L624.7 395.17L625.55 394.72L626.41 394.29L627.26 393.89L628.11 393.53L628.96 393.19L629.82 392.9L630.67 392.68L631.52 392.57L632.37 392.6L633.23 392.78L634.08 393.13L634.93 393.62L635.78 394.23L636.64 394.94L637.49 395.74L638.34 396.61L639.19 397.52L640.05 398.46L640.9 399.42L641.75 400.36L642.6 401.29L643.46 402.2L644.31 403.09L645.16 403.96L646.01 404.8L646.87 405.63L647.72 406.43L648.57 407.21L649.42 407.96L650.28 408.69L651.13 409.39L651.98 410.07L652.83 410.71L653.69 411.33L654.54 411.91L655.39 412.46L656.24 412.97L657.1 413.44L657.95 413.86L658.8 414.24L659.65 414.58L660.51 414.86L661.36 415.09L662.21 415.26L663.06 415.38L663.92 415.43L664.77 415.42L665.62 415.36L666.47 415.24L667.33 415.06L668.18 414.84L669.03 414.56L669.88 414.24L670.74 413.88L671.59 413.47L672.44 413.02L673.29 412.54L674.15 412.03L675 411.48L675.85 410.9L676.7 410.3L677.56 409.68L678.41 409.03L679.26 408.36L680.11 407.68L680.97 406.99L681.82 406.29L682.67 405.58L683.52 404.87L684.38 404.15L685.23 403.44L686.08 402.73L686.93 402.03L687.79 401.34L688.64 400.66L689.49 400L690.34 399.36L691.2 398.75L692.05 398.18L692.9 397.63L693.75 397.13L694.61 396.68L695.46 396.27L696.31 395.92L697.16 395.62L698.02 395.39L698.87 395.23L699.72 395.13L700.57 395.11L701.43 395.16L702.28 395.28L703.13 395.45L703.98 395.68L704.84 395.96L705.69 396.28L706.54 396.64L707.39 397.03L708.25 397.46L709.1 397.91L709.95 398.38L710.8 398.86L711.66 399.36L712.51 399.86L713.36 400.37L714.21 400.88L715.07 401.4L715.92 401.91L716.77 402.42L717.63 402.93L718.48 403.43L719.33 403.92L720.18 404.4L721.04 404.87L721.89 405.32L722.74 405.75L723.59 406.17L724.45 406.56L725.3 406.93L726.15 407.28L727 407.6L727.86 407.9L728.71 408.17L729.56 408.42L730.41 408.63L731.27 408.82L732.12 408.97L732.97 409.09L733.82 409.18L734.68 409.23L735.53 409.25L736.38 409.23L737.23 409.17L738.09 409.08L738.94 408.96L739.79 408.8L740.64 408.61L741.5 408.4L742.35 408.15L743.2 407.88L744.05 407.58L744.91 407.26L745.76 406.92L746.61 406.55L747.46 406.17L748.32 405.77L749.17 405.35L750.02 404.93L750.87 404.49L751.73 404.05L752.58 403.61L753.43 403.16L754.28 402.72L755.14 402.28L755.99 401.85L756.84 401.42L757.69 401.01L758.55 400.61L759.4 400.22L760.25 399.85L761.1 399.5L761.96 399.17L762.81 398.86L763.66 398.57L764.51 398.3L765.37 398.06L766.22 397.84L767.07 397.65L767.92 397.49L768.78 397.36L769.63 397.26L770.48 397.19L771.33 397.16L772.19 397.16L773.04 397.2L773.89 397.27L774.74 397.37L775.6 397.5L776.45 397.65L777.3 397.82L778.15 398.01L779.01 398.22L779.86 398.44L780.71 398.66L781.56 398.89L782.42 399.13L783.27 399.36L784.12 399.61L784.97 399.85L785.83 400.1L786.68 400.34L787.53 400.59L788.38 400.83L789.24 401.07L790.09 401.31L790.94 401.54L791.79 401.77L792.65 401.99L793.5 402.21L794.35 402.42L795.2 402.62L796.06 402.81L796.91 402.99L797.76 403.16L798.61 403.33L799.47 403.48L800.32 403.62L801.17 403.74L802.02 403.85L802.88 403.95L803.73 404.04L804.58 404.1L805.43 404.16L806.29 404.19L807.14 404.21L807.99 404.21L808.84 404.19L809.7 404.16L810.55 404.1L811.4 404.04L812.25 403.95L813.11 403.85L813.96 403.74L814.81 403.61L815.66 403.47L816.52 403.31L817.37 403.14L818.22 402.96L819.07 402.76L819.93 402.56L820.78 402.35L821.63 402.13L822.48 401.9L823.34 401.66L824.19 401.42L825.04 401.18L825.89 400.93L826.75 400.68L827.6 400.43" stroke="#2a2a2a" stroke-width="0.95" stroke-dasharray="1.4 2.7"/>
<path d="M487.21 402.62L488.06 402.6L488.92 402.58L489.77 402.54L490.62 402.48L491.48 402.4L492.33 402.28L493.18 402.13L494.04 401.92L494.89 401.67L495.74 401.36L496.59 401.01L497.45 400.62L498.3 400.22L499.15 399.8L500.01 399.4L500.86 399.01L501.71 398.68L502.57 398.43L503.42 398.27L504.27 398.25L505.13 398.36L505.98 398.61L506.83 399L507.69 399.51L508.54 400.14L509.39 400.89L510.24 401.75L511.1 402.71L511.95 403.77L512.8 404.91L513.66 406.1L514.51 407.32L515.36 408.54L516.22 409.72L517.07 410.85L517.92 411.89L518.78 412.84L519.63 413.69L520.48 414.45L521.33 415.14L522.19 415.75L523.04 416.29L523.89 416.77L524.75 417.19L525.6 417.51L526.45 417.74L527.31 417.85L528.16 417.84L529.01 417.7L529.87 417.43L530.72 417.05L531.57 416.56L532.43 415.97L533.28 415.28L534.13 414.49L534.98 413.63L535.84 412.68L536.69 411.67L537.54 410.58L538.4 409.44L539.25 408.25L540.1 407L540.96 405.72L541.81 404.4L542.66 403.07L543.52 401.74L544.37 400.41L545.22 399.12L546.07 397.86L546.93 396.66L547.78 395.53L548.63 394.47L549.49 393.49L550.34 392.59L551.19 391.78L552.05 391.07L552.9 390.45L553.75 389.93L554.61 389.49L555.46 389.12L556.31 388.82L557.17 388.58L558.02 388.38L558.87 388.22L559.72 388.12L560.58 388.09L561.43 388.16L562.28 388.31L563.14 388.57L563.99 388.91L564.84 389.34L565.7 389.87L566.55 390.48L567.4 391.19L568.26 391.98L569.11 392.86L569.96 393.82L570.81 394.87L571.67 395.98L572.52 397.15L573.37 398.35L574.23 399.57L575.08 400.78L575.93 401.99L576.79 403.16L577.64 404.29L578.49 405.36L579.35 406.39L580.2 407.36L581.05 408.27L581.91 409.12L582.76 409.91L583.61 410.63L584.46 411.29L585.32 411.88L586.17 412.4L587.02 412.87L587.88 413.28L588.73 413.64L589.58 413.96L590.44 414.24L591.29 414.48L592.14 414.66L593 414.77L593.85 414.79L594.7 414.72L595.56 414.56L596.41 414.31L597.26 413.97L598.11 413.54L598.97 413.01L599.82 412.4L600.67 411.7L601.53 410.91L602.38 410.05L603.23 409.13L604.09 408.15L604.94 407.11L605.79 406.04L606.65 404.93L607.5 403.79L608.35 402.63L609.2 401.46L610.06 400.28L610.91 399.11L611.76 397.96L612.62 396.82L613.47 395.72L614.32 394.65L615.18 393.62L616.03 392.65L616.88 391.74L617.74 390.9L618.59 390.12L619.44 389.41L620.3 388.76L621.15 388.18L622 387.66L622.85 387.19L623.71 386.79L624.56 386.45L625.41 386.16L626.27 385.93L627.12 385.75L627.97 385.62L628.83 385.55L629.68 385.53L630.53 385.55L631.39 385.62L632.24 385.74L633.09 385.9L633.94 386.1L634.8 386.33L635.65 386.61L636.5 386.92L637.36 387.26L638.21 387.63L639.06 388.03L639.92 388.45L640.77 388.91L641.62 389.38L642.48 389.86L643.33 390.36L644.18 390.86L645.04 391.37L645.89 391.87L646.74 392.36L647.59 392.84L648.45 393.31L649.3 393.74L650.15 394.16L651.01 394.53L651.86 394.88L652.71 395.18L653.57 395.44L654.42 395.65L655.27 395.83L656.13 395.97L656.98 396.08L657.83 396.14L658.68 396.18L659.54 396.17L660.39 396.13L661.24 396.06L662.1 395.95L662.95 395.8L663.8 395.6L664.66 395.35L665.51 395.05L666.36 394.71L667.22 394.32L668.07 393.88L668.92 393.41L669.78 392.89L670.63 392.33L671.48 391.73L672.33 391.1L673.19 390.43L674.04 389.72L674.89 388.98L675.75 388.21L676.6 387.41L677.45 386.59L678.31 385.75L679.16 384.9L680.01 384.04L680.87 383.17L681.72 382.32L682.57 381.47L683.43 380.63L684.28 379.82L685.13 379.03L685.98 378.27L686.84 377.55L687.69 376.87L688.54 376.23L689.4 375.64L690.25 375.08L691.1 374.55L691.96 374.06L692.81 373.61L693.66 373.18L694.52 372.79L695.37 372.42L696.22 372.08L697.07 371.77L697.93 371.48L698.78 371.21L699.63 370.96L700.49 370.73L701.34 370.52L702.19 370.32L703.05 370.14L703.9 369.98L704.75 369.83L705.61 369.7L706.46 369.59L707.31 369.48L708.17 369.39L709.02 369.31L709.87 369.24L710.72 369.19L711.58 369.14L712.43 369.1L713.28 369.06L714.14 369.03L714.99 369.01L715.84 368.98L716.7 368.96L717.55 368.93L718.4 368.9L719.26 368.87L720.11 368.83L720.96 368.78L721.81 368.73L722.67 368.66L723.52 368.58L724.37 368.48L725.23 368.38L726.08 368.25L726.93 368.11L727.79 367.95L728.64 367.77L729.49 367.57L730.35 367.35L731.2 367.11L732.05 366.84L732.91 366.55L733.76 366.23L734.61 365.89L735.46 365.51L736.32 365.12L737.17 364.7L738.02 364.27L738.88 363.81L739.73 363.34L740.58 362.86L741.44 362.37L742.29 361.87L743.14 361.36L744 360.85L744.85 360.34L745.7 359.83L746.55 359.32L747.41 358.81L748.26 358.3L749.11 357.8L749.97 357.3L750.82 356.8L751.67 356.31L752.53 355.82L753.38 355.34L754.23 354.86L755.09 354.39L755.94 353.93L756.79 353.47L757.65 353.01L758.5 352.56L759.35 352.12L760.2 351.69L761.06 351.26L761.91 350.84L762.76 350.42L763.62 350.01L764.47 349.61L765.32 349.21L766.18 348.81L767.03 348.43L767.88 348.05L768.74 347.67L769.59 347.3L770.44 346.94L771.29 346.58L772.15 346.23L773 345.88L773.85 345.54L774.71 345.21L775.56 344.88L776.41 344.55L777.27 344.24L778.12 343.93L778.97 343.62L779.83 343.32L780.68 343.03L781.53 342.75L782.39 342.47L783.24 342.19L784.09 341.92L784.94 341.65L785.8 341.38L786.65 341.11L787.5 340.84L788.36 340.57L789.21 340.3L790.06 340.03L790.92 339.75L791.77 339.46L792.62 339.18L793.48 338.88L794.33 338.58L795.18 338.27L796.04 337.96L796.89 337.65L797.74 337.33L798.59 337.01L799.45 336.69L800.3 336.38L801.15 336.06L802.01 335.74L802.86 335.43L803.71 335.12L804.57 334.81L805.42 334.51L806.27 334.21L807.13 333.91L807.98 333.61L808.83 333.31L809.68 333.01L810.54 332.71L811.39 332.4L812.24 332.09L813.1 331.77L813.95 331.44L814.8 331.11L815.66 330.76L816.51 330.41L817.36 330.04L818.22 329.67L819.07 329.28L819.92 328.89L820.78 328.49L821.63 328.08L822.48 327.67L823.33 327.26L824.19 326.83L825.04 326.41L825.89 325.98L826.75 325.56L827.6 325.13" stroke="#0c4ef0" stroke-width="2.05"/>
<path d="M490.84 402.35V426.52M489.14 402.35H492.54M489.14 426.52H492.54M496.7 384.82V413.53M495 384.82H498.4M495 413.53H498.4M502.56 393.2V403.28M500.86 393.2H504.25M500.86 403.28H504.25M508.41 391.24V397.54M506.71 391.24H510.11M506.71 397.54H510.11M514.27 394.54V404.61M512.57 394.54H515.97M512.57 404.61H515.97M520.12 413.4V418.19M518.42 413.4H521.83M518.42 418.19H521.83M525.98 406.75V419.09M524.28 406.75H527.68M524.28 419.09H527.68M531.84 413.58V422.14M530.14 413.58H533.54M530.14 422.14H533.54M537.7 409.25V414.79M536 409.25H539.4M536 414.79H539.4M543.55 402.7V407.23M541.85 402.7H545.25M541.85 407.23H545.25M549.41 391.44V395.47M547.71 391.44H551.11M547.71 395.47H551.11M555.26 384.57V391.11M553.56 384.57H556.97M553.56 391.11H556.97M561.12 383.05V390.61M559.42 383.05H562.82M559.42 390.61H562.82M566.98 388.59V393.38M565.28 388.59H568.68M565.28 393.38H568.68M572.84 396.23V399.1M571.13 396.23H574.54M571.13 399.1H574.54M578.69 405.8V407.81M576.99 405.8H580.39M576.99 407.81H580.39M584.55 413V415.87M582.85 413H586.25M582.85 415.87H586.25M590.4 415.67V418.19M588.7 415.67H592.11M588.7 418.19H592.11M596.26 415.85V417.61M594.56 415.85H597.96M594.56 417.61H597.96M602.12 412.22V413.98M600.42 412.22H603.82M600.42 413.98H603.82M607.98 406.85V408.62M606.27 406.85H609.68M606.27 408.62H609.68M613.83 400.61V403.48M612.13 400.61H615.53M612.13 403.48H615.53M619.69 392.9V395.17M617.99 392.9H621.39M617.99 395.17H621.39M625.55 389.75V391.47M623.85 389.75H627.25M623.85 391.47H627.25M631.4 389.85V391.37M629.7 389.85H633.1M629.7 391.37H633.1M637.26 391.62V393.13M635.56 391.62H638.96M635.56 393.13H638.96M643.12 395.4V396.91M641.41 395.4H644.82M641.41 396.91H644.82M648.97 399.58V401.09M647.27 399.58H650.67M647.27 401.09H650.67M654.83 401.57V403.08M653.13 401.57H656.53M653.13 403.08H656.53M660.68 401.57V403.08M658.98 401.57H662.38M658.98 403.08H662.38M666.54 400.33V401.84M664.84 400.33H668.24M664.84 401.84H668.24M672.4 397.84V399.35M670.7 397.84H674.1M670.7 399.35H674.1M678.25 394.14V395.65M676.55 394.14H679.96M676.55 395.65H679.96M684.11 389.85V391.37M682.41 389.85H685.81M682.41 391.37H685.81M689.97 385.82V387.34M688.27 385.82H691.67M688.27 387.34H691.67M695.83 382.37V383.89M694.12 382.37H697.53M694.12 383.89H697.53M701.68 381.54V383.05M699.98 381.54H703.38M699.98 383.05H703.38M707.54 381.11V382.63M705.84 381.11H709.24M705.84 382.63H709.24M713.39 380.61V382.12M711.69 380.61H715.1M711.69 382.12H715.1M719.25 381.11V382.63M717.55 381.11H720.95M717.55 382.63H720.95M725.11 381.11V382.63M723.41 381.11H726.81M723.41 382.63H726.81M730.97 381.11V382.63M729.26 381.11H732.67M729.26 382.63H732.67M736.82 380.36V381.87M735.12 380.36H738.52M735.12 381.87H738.52M742.68 378.37V379.88M740.98 378.37H744.38M740.98 379.88H744.38M748.54 375.37V376.88M746.84 375.37H750.24M746.84 376.88H750.24M754.39 371.65V373.16M752.69 371.65H756.09M752.69 373.16H756.09M760.25 368.7V370.21M758.55 368.7H761.95M758.55 370.21H761.95M766.11 366.68V368.19M764.4 366.68H767.81M764.4 368.19H767.81M771.96 364.92V366.43M770.26 364.92H773.66M770.26 366.43H773.66M777.82 362.91V364.42M776.12 362.91H779.52M776.12 364.42H779.52M783.68 362.4V363.91M781.98 362.4H785.38M781.98 363.91H785.38M789.53 361.14V362.65M787.83 361.14H791.23M787.83 362.65H791.23M795.39 359.13V360.64M793.69 359.13H797.09M793.69 360.64H797.09M801.25 358.62V360.14M799.55 358.62H802.95M799.55 360.14H802.95M807.1 356.61V358.12M805.4 356.61H808.8M805.4 358.12H808.8M812.96 354.92V356.43M811.26 354.92H814.66M811.26 356.43H814.66M818.82 352.93V354.44M817.12 352.93H820.52M817.12 354.44H820.52M824.67 350.44V351.95M822.97 350.44H826.37M822.97 351.95H826.37" stroke="#555" stroke-width="0.9"/>
<g fill="#000"><circle cx="490.84" cy="414.44" r="1.6"/><circle cx="496.7" cy="399.17" r="1.6"/><circle cx="502.56" cy="398.24" r="1.6"/><circle cx="508.41" cy="394.39" r="1.6"/><circle cx="514.27" cy="399.58" r="1.6"/><circle cx="520.12" cy="415.8" r="1.6"/><circle cx="525.98" cy="412.92" r="1.6"/><circle cx="531.84" cy="417.86" r="1.6"/><circle cx="537.7" cy="412.02" r="1.6"/><circle cx="543.55" cy="404.97" r="1.6"/><circle cx="549.41" cy="393.46" r="1.6"/><circle cx="555.26" cy="387.84" r="1.6"/><circle cx="561.12" cy="386.83" r="1.6"/><circle cx="566.98" cy="390.99" r="1.6"/><circle cx="572.84" cy="397.66" r="1.6"/><circle cx="578.69" cy="406.8" r="1.6"/><circle cx="584.55" cy="414.44" r="1.6"/><circle cx="590.4" cy="416.93" r="1.6"/><circle cx="596.26" cy="416.73" r="1.6"/><circle cx="602.12" cy="413.1" r="1.6"/><circle cx="607.98" cy="407.74" r="1.6"/><circle cx="613.83" cy="402.04" r="1.6"/><circle cx="619.69" cy="394.04" r="1.6"/><circle cx="625.55" cy="390.61" r="1.6"/><circle cx="631.4" cy="390.61" r="1.6"/><circle cx="637.26" cy="392.37" r="1.6"/><circle cx="643.12" cy="396.15" r="1.6"/><circle cx="648.97" cy="400.33" r="1.6"/><circle cx="654.83" cy="402.32" r="1.6"/><circle cx="660.68" cy="402.32" r="1.6"/><circle cx="666.54" cy="401.09" r="1.6"/><circle cx="672.4" cy="398.59" r="1.6"/><circle cx="678.25" cy="394.89" r="1.6"/><circle cx="684.11" cy="390.61" r="1.6"/><circle cx="689.97" cy="386.58" r="1.6"/><circle cx="695.83" cy="383.13" r="1.6"/><circle cx="701.68" cy="382.3" r="1.6"/><circle cx="707.54" cy="381.87" r="1.6"/><circle cx="713.39" cy="381.37" r="1.6"/><circle cx="719.25" cy="381.87" r="1.6"/><circle cx="725.11" cy="381.87" r="1.6"/><circle cx="730.97" cy="381.87" r="1.6"/><circle cx="736.82" cy="381.11" r="1.6"/><circle cx="742.68" cy="379.13" r="1.6"/><circle cx="748.54" cy="376.13" r="1.6"/><circle cx="754.39" cy="372.4" r="1.6"/><circle cx="760.25" cy="369.45" r="1.6"/><circle cx="766.11" cy="367.44" r="1.6"/><circle cx="771.96" cy="365.68" r="1.6"/><circle cx="777.82" cy="363.66" r="1.6"/><circle cx="783.68" cy="363.16" r="1.6"/><circle cx="789.53" cy="361.9" r="1.6"/><circle cx="795.39" cy="359.88" r="1.6"/><circle cx="801.25" cy="359.38" r="1.6"/><circle cx="807.1" cy="357.36" r="1.6"/><circle cx="812.96" cy="355.68" r="1.6"/><circle cx="818.82" cy="353.69" r="1.6"/><circle cx="824.67" cy="351.19" r="1.6"/></g>
<path d="M487.21 403L488.06 402.97L488.92 402.93L489.77 402.88L490.62 402.81L491.48 402.72L492.33 402.61L493.18 402.46L494.04 402.28L494.89 402.05L495.74 401.78L496.59 401.47L497.45 401.12L498.3 400.76L499.15 400.39L500.01 400.01L500.86 399.65L501.71 399.33L502.57 399.09L503.42 398.95L504.27 398.93L505.13 399.06L505.98 399.34L506.83 399.75L507.69 400.29L508.54 400.95L509.39 401.74L510.24 402.64L511.1 403.65L511.95 404.77L512.8 405.96L513.66 407.22L514.51 408.5L515.36 409.8L516.22 411.07L517.07 412.29L517.92 413.44L518.78 414.5L519.63 415.46L520.48 416.34L521.33 417.12L522.19 417.82L523.04 418.43L523.89 418.95L524.75 419.39L525.6 419.73L526.45 419.97L527.31 420.12L528.16 420.17L529.01 420.11L529.87 419.95L530.72 419.7L531.57 419.35L532.43 418.92L533.28 418.4L534.13 417.8L534.98 417.13L535.84 416.38L536.69 415.57L537.54 414.7L538.4 413.75L539.25 412.75L540.1 411.69L540.96 410.57L541.81 409.4L542.66 408.2L543.52 406.99L544.37 405.8L545.22 404.63L546.07 403.51L546.93 402.46L547.78 401.48L548.63 400.58L549.49 399.74L550.34 398.97L551.19 398.26L552.05 397.62L552.9 397.03L553.75 396.51L554.61 396.05L555.46 395.67L556.31 395.36L557.17 395.14L558.02 395.01L558.87 394.97L559.72 395.02L560.58 395.17L561.43 395.41L562.28 395.73L563.14 396.15L563.99 396.65L564.84 397.23L565.7 397.9L566.55 398.64L567.4 399.47L568.26 400.37L569.11 401.35L569.96 402.39L570.81 403.5L571.67 404.67L572.52 405.89L573.37 407.14L574.23 408.41L575.08 409.69L575.93 410.96L576.79 412.22L577.64 413.46L578.49 414.67L579.35 415.84L580.2 416.97L581.05 418.06L581.91 419.1L582.76 420.08L583.61 421.01L584.46 421.87L585.32 422.67L586.17 423.4L587.02 424.06L587.88 424.65L588.73 425.18L589.58 425.63L590.44 426.02L591.29 426.33L592.14 426.58L593 426.76L593.85 426.86L594.7 426.88L595.56 426.81L596.41 426.67L597.26 426.45L598.11 426.14L598.97 425.75L599.82 425.27L600.67 424.71L601.53 424.07L602.38 423.37L603.23 422.6L604.09 421.79L604.94 420.94L605.79 420.06L606.65 419.15L607.5 418.23L608.35 417.29L609.2 416.34L610.06 415.39L610.91 414.45L611.76 413.52L612.62 412.61L613.47 411.72L614.32 410.86L615.18 410.03L616.03 409.25L616.88 408.51L617.74 407.83L618.59 407.2L619.44 406.62L620.3 406.1L621.15 405.63L622 405.22L622.85 404.86L623.71 404.56L624.56 404.32L625.41 404.14L626.27 404.01L627.12 403.94L627.97 403.93L628.83 403.99L629.68 404.1L630.53 404.27L631.39 404.49L632.24 404.76L633.09 405.09L633.94 405.45L634.8 405.87L635.65 406.32L636.5 406.81L637.36 407.33L638.21 407.89L639.06 408.48L639.92 409.1L640.77 409.74L641.62 410.4L642.48 411.08L643.33 411.77L644.18 412.47L645.04 413.18L645.89 413.88L646.74 414.59L647.59 415.29L648.45 415.97L649.3 416.65L650.15 417.3L651.01 417.93L651.86 418.54L652.71 419.11L653.57 419.66L654.42 420.16L655.27 420.63L656.13 421.06L656.98 421.45L657.83 421.79L658.68 422.09L659.54 422.34L660.39 422.53L661.24 422.68L662.1 422.76L662.95 422.79L663.8 422.76L664.66 422.67L665.51 422.51L666.36 422.31L667.22 422.05L668.07 421.75L668.92 421.4L669.78 421.02L670.63 420.6L671.48 420.14L672.33 419.66L673.19 419.16L674.04 418.63L674.89 418.09L675.75 417.54L676.6 416.97L677.45 416.4L678.31 415.82L679.16 415.24L680.01 414.67L680.87 414.09L681.72 413.53L682.57 412.97L683.43 412.42L684.28 411.89L685.13 411.38L685.98 410.88L686.84 410.41L687.69 409.97L688.54 409.55L689.4 409.16L690.25 408.79L691.1 408.46L691.96 408.15L692.81 407.87L693.66 407.63L694.52 407.41L695.37 407.22L696.22 407.07L697.07 406.95L697.93 406.86L698.78 406.8L699.63 406.78L700.49 406.79L701.34 406.83L702.19 406.9L703.05 406.99L703.9 407.1L704.75 407.24L705.61 407.4L706.46 407.57L707.31 407.76L708.17 407.97L709.02 408.18L709.87 408.41L710.72 408.64L711.58 408.87L712.43 409.12L713.28 409.36L714.14 409.61L714.99 409.85L715.84 410.1L716.7 410.34L717.55 410.58L718.4 410.82L719.26 411.04L720.11 411.27L720.96 411.48L721.81 411.68L722.67 411.87L723.52 412.05L724.37 412.22L725.23 412.36L726.08 412.49L726.93 412.6L727.79 412.69L728.64 412.75L729.49 412.78L730.35 412.79L731.2 412.76L732.05 412.71L732.91 412.62L733.76 412.51L734.61 412.37L735.46 412.21L736.32 412.03L737.17 411.83L738.02 411.62L738.88 411.39L739.73 411.14L740.58 410.89L741.44 410.63L742.29 410.36L743.14 410.09L744 409.81L744.85 409.54L745.7 409.27L746.55 409L747.41 408.73L748.26 408.47L749.11 408.22L749.97 407.97L750.82 407.73L751.67 407.49L752.53 407.25L753.38 407.03L754.23 406.81L755.09 406.6L755.94 406.39L756.79 406.19L757.65 406L758.5 405.82L759.35 405.65L760.2 405.48L761.06 405.32L761.91 405.17L762.76 405.04L763.62 404.91L764.47 404.79L765.32 404.67L766.18 404.57L767.03 404.48L767.88 404.4L768.74 404.33L769.59 404.27L770.44 404.22L771.29 404.18L772.15 404.15L773 404.13L773.85 404.11L774.71 404.1L775.56 404.09L776.41 404.08L777.27 404.08L778.12 404.07L778.97 404.07L779.83 404.07L780.68 404.06L781.53 404.05L782.39 404.04L783.24 404.02L784.09 404.01L784.94 403.98L785.8 403.96L786.65 403.93L787.5 403.89L788.36 403.85L789.21 403.8L790.06 403.75L790.92 403.7L791.77 403.64L792.62 403.57L793.48 403.49L794.33 403.41L795.18 403.33L796.04 403.24L796.89 403.15L797.74 403.05L798.59 402.96L799.45 402.86L800.3 402.76L801.15 402.66L802.01 402.56L802.86 402.47L803.71 402.37L804.57 402.28L805.42 402.19L806.27 402.1L807.13 402.02L807.98 401.93L808.83 401.85L809.68 401.76L810.54 401.68L811.39 401.59L812.24 401.5L813.1 401.41L813.95 401.32L814.8 401.22L815.66 401.12L816.51 401.01L817.36 400.9L818.22 400.78L819.07 400.66L819.92 400.54L820.78 400.41L821.63 400.28L822.48 400.15L823.33 400.02L824.19 399.88L825.04 399.74L825.89 399.6L826.75 399.46L827.6 399.32" stroke="#ae00ae" stroke-width="2.1" stroke-dasharray="5.4 1.3 2.5 1.3"/>
<path d="M487.21 403L488.06 402.97L488.92 402.94L489.77 402.9L490.62 402.83L491.48 402.75L492.33 402.63L493.18 402.48L494.04 402.29L494.89 402.05L495.74 401.76L496.59 401.43L497.45 401.07L498.3 400.68L499.15 400.28L500.01 399.87L500.86 399.48L501.71 399.14L502.57 398.87L503.42 398.7L504.27 398.68L505.13 398.8L505.98 399.07L506.83 399.48L507.69 400.02L508.54 400.68L509.39 401.45L510.24 402.32L511.1 403.29L511.95 404.34L512.8 405.47L513.66 406.64L514.51 407.84L515.36 409.04L516.22 410.23L517.07 411.38L517.92 412.46L518.78 413.48L519.63 414.41L520.48 415.26L521.33 416.03L522.19 416.71L523.04 417.3L523.89 417.8L524.75 418.21L525.6 418.51L526.45 418.72L527.31 418.82L528.16 418.82L529.01 418.71L529.87 418.49L530.72 418.17L531.57 417.75L532.43 417.24L533.28 416.64L534.13 415.96L534.98 415.19L535.84 414.35L536.69 413.43L537.54 412.44L538.4 411.39L539.25 410.27L540.1 409.09L540.96 407.85L541.81 406.56L542.66 405.25L543.52 403.93L544.37 402.62L545.22 401.35L546.07 400.13L546.93 398.99L547.78 397.93L548.63 396.95L549.49 396.06L550.34 395.24L551.19 394.5L552.05 393.84L552.9 393.25L553.75 392.72L554.61 392.27L555.46 391.89L556.31 391.57L557.17 391.32L558.02 391.14L558.87 391.03L559.72 390.98L560.58 391.02L561.43 391.14L562.28 391.34L563.14 391.63L563.99 392L564.84 392.45L565.7 392.98L566.55 393.59L567.4 394.28L568.26 395.06L569.11 395.91L569.96 396.84L570.81 397.85L571.67 398.92L572.52 400.05L573.37 401.21L574.23 402.39L575.08 403.58L575.93 404.77L576.79 405.93L577.64 407.07L578.49 408.16L579.35 409.22L580.2 410.24L581.05 411.21L581.91 412.13L582.76 413L583.61 413.81L584.46 414.56L585.32 415.26L586.17 415.89L587.02 416.46L587.88 416.97L588.73 417.41L589.58 417.79L590.44 418.1L591.29 418.34L592.14 418.51L593 418.62L593.85 418.65L594.7 418.61L595.56 418.49L596.41 418.28L597.26 417.98L598.11 417.57L598.97 417.06L599.82 416.42L600.67 415.67L601.53 414.82L602.38 413.87L603.23 412.85L604.09 411.77L604.94 410.65L605.79 409.5L606.65 408.32L607.5 407.14L608.35 405.94L609.2 404.75L610.06 403.56L610.91 402.4L611.76 401.25L612.62 400.14L613.47 399.06L614.32 398.03L615.18 397.05L616.03 396.13L616.88 395.28L617.74 394.5L618.59 393.79L619.44 393.15L620.3 392.57L621.15 392.06L622 391.61L622.85 391.21L623.71 390.87L624.56 390.58L625.41 390.34L626.27 390.15L627.12 390L627.97 389.9L628.83 389.83L629.68 389.8L630.53 389.81L631.39 389.85L632.24 389.93L633.09 390.05L633.94 390.2L634.8 390.39L635.65 390.61L636.5 390.87L637.36 391.16L638.21 391.49L639.06 391.85L639.92 392.24L640.77 392.67L641.62 393.13L642.48 393.61L643.33 394.11L644.18 394.63L645.04 395.16L645.89 395.69L646.74 396.22L647.59 396.75L648.45 397.27L649.3 397.78L650.15 398.26L651.01 398.72L651.86 399.15L652.71 399.55L653.57 399.92L654.42 400.25L655.27 400.55L656.13 400.81L656.98 401.05L657.83 401.26L658.68 401.44L659.54 401.59L660.39 401.72L661.24 401.81L662.1 401.89L662.95 401.93L663.8 401.93L664.66 401.88L665.51 401.77L666.36 401.6L667.22 401.36L668.07 401.04L668.92 400.63L669.78 400.12L670.63 399.51L671.48 398.8L672.33 398.02L673.19 397.17L674.04 396.28L674.89 395.36L675.75 394.43L676.6 393.51L677.45 392.58L678.31 391.66L679.16 390.75L680.01 389.84L680.87 388.95L681.72 388.07L682.57 387.21L683.43 386.37L684.28 385.55L685.13 384.75L685.98 383.97L686.84 383.23L687.69 382.51L688.54 381.83L689.4 381.17L690.25 380.55L691.1 379.96L691.96 379.4L692.81 378.88L693.66 378.38L694.52 377.92L695.37 377.49L696.22 377.1L697.07 376.74L697.93 376.41L698.78 376.12L699.63 375.86L700.49 375.63L701.34 375.44L702.19 375.27L703.05 375.14L703.9 375.03L704.75 374.94L705.61 374.88L706.46 374.84L707.31 374.82L708.17 374.82L709.02 374.83L709.87 374.86L710.72 374.91L711.58 374.97L712.43 375.03L713.28 375.11L714.14 375.18L714.99 375.26L715.84 375.34L716.7 375.42L717.55 375.48L718.4 375.54L719.26 375.59L720.11 375.62L720.96 375.64L721.81 375.63L722.67 375.61L723.52 375.56L724.37 375.48L725.23 375.39L726.08 375.26L726.93 375.12L727.79 374.95L728.64 374.75L729.49 374.53L730.35 374.28L731.2 374.01L732.05 373.71L732.91 373.39L733.76 373.04L734.61 372.66L735.46 372.26L736.32 371.84L737.17 371.39L738.02 370.92L738.88 370.44L739.73 369.94L740.58 369.42L741.44 368.89L742.29 368.35L743.14 367.8L744 367.25L744.85 366.68L745.7 366.12L746.55 365.55L747.41 364.97L748.26 364.4L749.11 363.83L749.97 363.26L750.82 362.7L751.67 362.14L752.53 361.58L753.38 361.03L754.23 360.49L755.09 359.96L755.94 359.44L756.79 358.93L757.65 358.44L758.5 357.95L759.35 357.49L760.2 357.03L761.06 356.59L761.91 356.15L762.76 355.73L763.62 355.32L764.47 354.92L765.32 354.53L766.18 354.15L767.03 353.78L767.88 353.41L768.74 353.05L769.59 352.71L770.44 352.36L771.29 352.03L772.15 351.7L773 351.37L773.85 351.06L774.71 350.75L775.56 350.44L776.41 350.14L777.27 349.85L778.12 349.56L778.97 349.27L779.83 349L780.68 348.72L781.53 348.45L782.39 348.19L783.24 347.92L784.09 347.66L784.94 347.4L785.8 347.14L786.65 346.88L787.5 346.62L788.36 346.36L789.21 346.09L790.06 345.82L790.92 345.54L791.77 345.26L792.62 344.97L793.48 344.67L794.33 344.37L795.18 344.05L796.04 343.74L796.89 343.41L797.74 343.09L798.59 342.75L799.45 342.42L800.3 342.08L801.15 341.73L802.01 341.38L802.86 341.03L803.71 340.68L804.57 340.33L805.42 339.97L806.27 339.62L807.13 339.26L807.98 338.9L808.83 338.54L809.68 338.17L810.54 337.81L811.39 337.44L812.24 337.07L813.1 336.69L813.95 336.32L814.8 335.94L815.66 335.56L816.51 335.17L817.36 334.78L818.22 334.39L819.07 334L819.92 333.61L820.78 333.21L821.63 332.81L822.48 332.41L823.33 332.01L824.19 331.61L825.04 331.2L825.89 330.8L826.75 330.39L827.6 329.99" stroke="#d40000" stroke-width="2.1" stroke-dasharray="15.6 2.1"/>
</g>
<path d="M476.5 450.5v-4M476.5 274.5v4M487.5 450.5v-2.5M487.5 274.5v2.5M499.5 450.5v-2.5M499.5 274.5v2.5M511.5 450.5v-2.5M511.5 274.5v2.5M522.5 450.5v-2.5M522.5 274.5v2.5M534.5 450.5v-4M534.5 274.5v4M546.5 450.5v-2.5M546.5 274.5v2.5M558.5 450.5v-2.5M558.5 274.5v2.5M569.5 450.5v-2.5M569.5 274.5v2.5M581.5 450.5v-2.5M581.5 274.5v2.5M593.5 450.5v-4M593.5 274.5v4M604.5 450.5v-2.5M604.5 274.5v2.5M616.5 450.5v-2.5M616.5 274.5v2.5M628.5 450.5v-2.5M628.5 274.5v2.5M640.5 450.5v-2.5M640.5 274.5v2.5M651.5 450.5v-4M651.5 274.5v4M663.5 450.5v-2.5M663.5 274.5v2.5M675.5 450.5v-2.5M675.5 274.5v2.5M686.5 450.5v-2.5M686.5 274.5v2.5M698.5 450.5v-2.5M698.5 274.5v2.5M710.5 450.5v-4M710.5 274.5v4M722.5 450.5v-2.5M722.5 274.5v2.5M733.5 450.5v-2.5M733.5 274.5v2.5M745.5 450.5v-2.5M745.5 274.5v2.5M757.5 450.5v-2.5M757.5 274.5v2.5M768.5 450.5v-4M768.5 274.5v4M780.5 450.5v-2.5M780.5 274.5v2.5M792.5 450.5v-2.5M792.5 274.5v2.5M804.5 450.5v-2.5M804.5 274.5v2.5M815.5 450.5v-2.5M815.5 274.5v2.5M827.5 450.5v-4M827.5 274.5v4" stroke="#b4b4b4" stroke-width="1" fill="none"/>
<path d="M476 450.5h4M827.5 450.5h-4M476 445.5h2.5M827.5 445.5h-2.5M476 440.5h2.5M827.5 440.5h-2.5M476 435.5h2.5M827.5 435.5h-2.5M476 430.5h2.5M827.5 430.5h-2.5M476 425.5h4M827.5 425.5h-4M476 420.5h2.5M827.5 420.5h-2.5M476 415.5h2.5M827.5 415.5h-2.5M476 410.5h2.5M827.5 410.5h-2.5M476 405.5h2.5M827.5 405.5h-2.5M476 400.5h4M827.5 400.5h-4M476 395.5h2.5M827.5 395.5h-2.5M476 390.5h2.5M827.5 390.5h-2.5M476 385.5h2.5M827.5 385.5h-2.5M476 380.5h2.5M827.5 380.5h-2.5M476 375.5h4M827.5 375.5h-4M476 370.5h2.5M827.5 370.5h-2.5M476 365.5h2.5M827.5 365.5h-2.5M476 359.5h2.5M827.5 359.5h-2.5M476 354.5h2.5M827.5 354.5h-2.5M476 349.5h4M827.5 349.5h-4M476 344.5h2.5M827.5 344.5h-2.5M476 339.5h2.5M827.5 339.5h-2.5M476 334.5h2.5M827.5 334.5h-2.5M476 329.5h2.5M827.5 329.5h-2.5M476 324.5h4M827.5 324.5h-4M476 319.5h2.5M827.5 319.5h-2.5M476 314.5h2.5M827.5 314.5h-2.5M476 309.5h2.5M827.5 309.5h-2.5M476 304.5h2.5M827.5 304.5h-2.5M476 299.5h4M827.5 299.5h-4M476 294.5h2.5M827.5 294.5h-2.5M476 289.5h2.5M827.5 289.5h-2.5M476 284.5h2.5M827.5 284.5h-2.5M476 279.5h2.5M827.5 279.5h-2.5M476 274.5h4M827.5 274.5h-4" stroke="#c4c4c4" stroke-width="1" fill="none"/>
<path d="M476 274V451" stroke="#a0a0a0" stroke-width="1" fill="none"/>
<path d="M827.5 274V451" stroke="#6e6e6e" stroke-width="1" fill="none"/>
<path d="M475.5 274.7H828" stroke="#a6a6a6" stroke-width="1" fill="none"/>
<path d="M475.5 450.5H828" stroke="#6e6e6e" stroke-width="1" fill="none"/>
<g font-family="'Liberation Serif', serif" font-size="16.4" fill="#0a0a0a" stroke="#0a0a0a" stroke-width="0.2">
<text transform="translate(476 466) scale(0.955 1)" text-anchor="middle" font-size="17.1">0.00</text>
<text transform="translate(534.58 466) scale(0.955 1)" text-anchor="middle" font-size="17.1">0.05</text>
<text transform="translate(593.17 466) scale(0.955 1)" text-anchor="middle" font-size="17.1">0.10</text>
<text transform="translate(651.75 466) scale(0.955 1)" text-anchor="middle" font-size="17.1">0.15</text>
<text transform="translate(710.33 466) scale(0.955 1)" text-anchor="middle" font-size="17.1">0.20</text>
<text transform="translate(768.92 466) scale(0.955 1)" text-anchor="middle" font-size="17.1">0.25</text>
<text transform="translate(827.5 466) scale(0.955 1)" text-anchor="middle" font-size="17.1">0.30</text>
<text transform="translate(473.2 455.9) scale(0.945 1)" text-anchor="end" font-size="17.1">0.8</text>
<text transform="translate(473.2 430.76) scale(0.945 1)" text-anchor="end" font-size="17.1">0.9</text>
<text transform="translate(473.2 405.61) scale(0.945 1)" text-anchor="end" font-size="17.1">1.0</text>
<text transform="translate(473.2 380.47) scale(0.945 1)" text-anchor="end" font-size="17.1">1.1</text>
<text transform="translate(473.2 355.33) scale(0.945 1)" text-anchor="end" font-size="17.1">1.2</text>
<text transform="translate(473.2 330.19) scale(0.945 1)" text-anchor="end" font-size="17.1">1.3</text>
<text transform="translate(473.2 305.04) scale(0.945 1)" text-anchor="end" font-size="17.1">1.4</text>
<text transform="translate(473.2 279.9) scale(0.945 1)" text-anchor="end" font-size="17.1">1.5</text>
<text x="651.75" y="263.9" text-anchor="middle" font-size="17.1">z=2.0</text>
<text x="651.75" y="487.7" text-anchor="middle" font-size="17">k[h/Mpc]</text>
</g>
<g transform="translate(443.4 390.4) rotate(-90)" font-family="'Liberation Serif', serif" fill="#0a0a0a" stroke="#0a0a0a" stroke-width="0.2">
<text x="0" y="0" font-size="16" font-style="italic">P</text>
<text transform="translate(9.3 3.1) scale(0.85 1)" font-size="12">01</text>
<text x="21.0" y="2.3" font-size="19.5">/</text>
<text x="27.7" y="0" font-size="16" font-style="italic">P</text>
<text x="37.1" y="3.7" font-size="11.6">NW</text>
</g>
</g>
<g id="legend" fill="none">
<path d="M494.2 292.1H535.2" stroke="#0c4ef0" stroke-width="2.1"/>
<path d="M494.2 306.7H535.2" stroke="#d40000" stroke-width="2.1" stroke-dasharray="17.3 6.6"/>
<path d="M494.2 320.9H535.2" stroke="#ae00ae" stroke-width="2.1" stroke-dasharray="13 5.6 4.6 5.3 20"/>
<path d="M494.2 335.3H533.5" stroke="#111" stroke-width="1.5" stroke-dasharray="2.4 1.52"/>
<g fill="#000"><circle cx="500.6" cy="349.4" r="2.5"/><circle cx="515.5" cy="349.4" r="2.5"/><circle cx="530.3" cy="349.4" r="2.5"/></g>
<g font-family="'Liberation Serif', serif" font-size="12.3" fill="#0a0a0a" stroke="#0a0a0a" stroke-width="0.2">
<text x="544.7" y="296" xml:space="preserve">nlo  SPT</text>
<text x="544.7" y="310.6">Trans. Zel'dovich</text>
<text x="544.7" y="324.6">Zel'dovich</text>
<text x="544.7" y="339.1">Linear</text>
<text x="544.7" y="353.3">Simulations</text>
</g></g>
</svg>
</body></html>
